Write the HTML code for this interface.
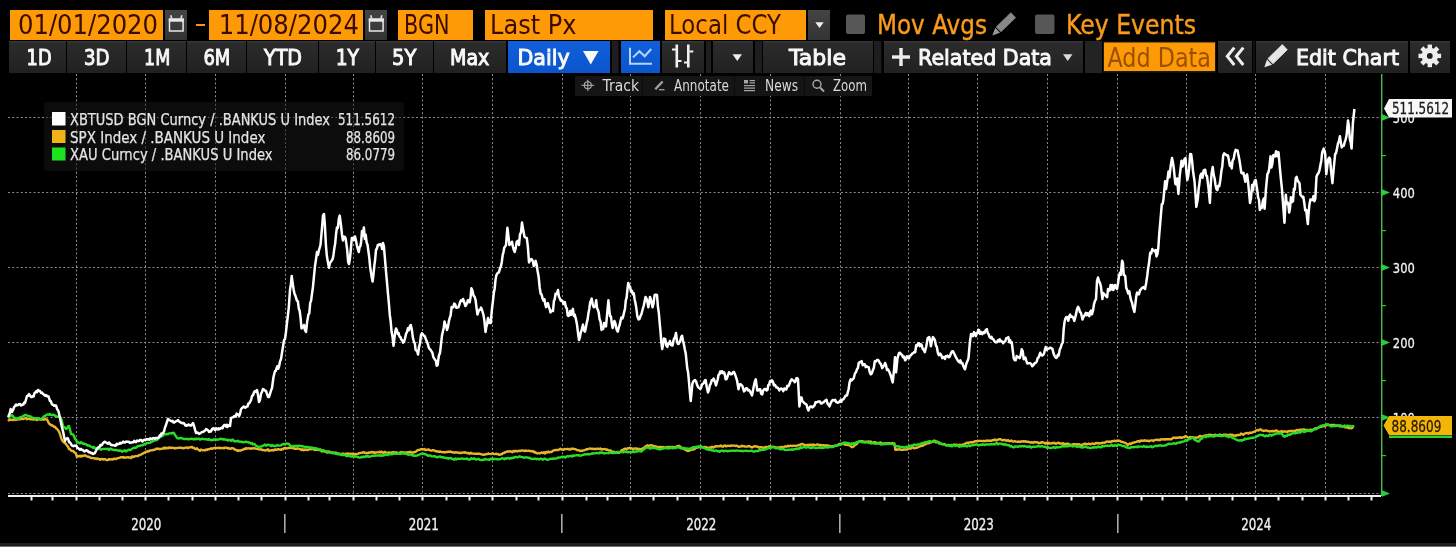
<!DOCTYPE html>
<html><head><meta charset="utf-8"><title>XBTUSD / BANKUS chart</title>
<style>
*{margin:0;padding:0}
html,body{width:1456px;height:547px;overflow:hidden;background:#000}
svg{display:block}
svg text{font-family:"DejaVu Sans","Liberation Sans",Arial,sans-serif}
</style></head><body>
<svg width="1456" height="547" viewBox="0 0 1456 547">
<defs>
<linearGradient id="gb" x1="0" y1="0" x2="0" y2="1"><stop offset="0" stop-color="#3a3a3a"/><stop offset="0.07" stop-color="#2b2b2b"/><stop offset="1" stop-color="#212121"/></linearGradient>
<linearGradient id="gblue" x1="0" y1="0" x2="0" y2="1"><stop offset="0" stop-color="#115fda"/><stop offset="1" stop-color="#0b55cc"/></linearGradient>
<linearGradient id="gcal" x1="0" y1="0" x2="0" y2="1"><stop offset="0" stop-color="#444"/><stop offset="1" stop-color="#333"/></linearGradient>
</defs>
<rect x="10" y="10" width="153" height="30" fill="#fd9a06"/>
<rect x="209" y="10" width="154" height="30" fill="#fd9a06"/>
<rect x="398" y="10" width="75" height="30" fill="#fd9a06"/>
<rect x="485" y="10" width="168" height="30" fill="#fd9a06"/>
<rect x="665" y="10" width="141" height="30" fill="#fd9a06"/>
<rect x="165" y="10" width="22" height="30" fill="url(#gcal)"/><rect x="169.5" y="19.2" width="13.6" height="11.8" fill="none" stroke="#e8e8e8" stroke-width="1.5"/><rect x="168.8" y="18.5" width="15" height="3.2" fill="#e8e8e8"/><polygon points="170,15.2 171.6,15.2 172.4,18.6 170.8,18.6" fill="#e8e8e8"/><polygon points="181,15.2 182.6,15.2 181.8,18.6 180.2,18.6" fill="#e8e8e8"/>
<rect x="365" y="10" width="22" height="30" fill="url(#gcal)"/><rect x="369.5" y="19.2" width="13.6" height="11.8" fill="none" stroke="#e8e8e8" stroke-width="1.5"/><rect x="368.8" y="18.5" width="15" height="3.2" fill="#e8e8e8"/><polygon points="370,15.2 371.6,15.2 372.4,18.6 370.8,18.6" fill="#e8e8e8"/><polygon points="381,15.2 382.6,15.2 381.8,18.6 380.2,18.6" fill="#e8e8e8"/>
<rect x="196" y="24" width="9" height="2" fill="#f7931e"/>
<rect x="808" y="10" width="22" height="30" fill="url(#gcal)"/>
<polygon points="815.3,22.3 823.7,22.3 819.5,28" fill="#eee"/>
<rect x="846" y="14.5" width="19" height="19.5" rx="2" fill="#575757"/>
<rect x="1035" y="14.5" width="19.5" height="19.5" rx="2" fill="#575757"/>
<polygon points="992.30,35.50 1000.05,32.71 995.31,27.84" fill="#999"/><polygon points="1000.98,31.81 1015.57,17.64 1010.83,12.76 996.24,26.93" fill="#888" stroke="#888" stroke-width="0.8" stroke-linejoin="round"/>
<text x="18" y="33.6" font-size="26" fill="#3a0c00" textLength="140" lengthAdjust="spacingAndGlyphs">01/01/2020</text>
<text x="218.7" y="33.6" font-size="26" fill="#3a0c00" textLength="140.3" lengthAdjust="spacingAndGlyphs">11/08/2024</text>
<text x="404" y="33.6" font-size="26" fill="#3a0c00" textLength="45.5" lengthAdjust="spacingAndGlyphs">BGN</text>
<text x="490" y="33.6" font-size="26" fill="#3a0c00" textLength="86.5" lengthAdjust="spacingAndGlyphs">Last Px</text>
<text x="669" y="33.6" font-size="26" fill="#3a0c00" textLength="112" lengthAdjust="spacingAndGlyphs">Local CCY</text>
<text x="877" y="34" font-size="27" fill="#fa9a1a" textLength="110" lengthAdjust="spacingAndGlyphs" stroke="#fa9a1a" stroke-width="0.45">Mov Avgs</text>
<text x="1066" y="34" font-size="27" fill="#fa9a1a" textLength="130" lengthAdjust="spacingAndGlyphs" stroke="#fa9a1a" stroke-width="0.45">Key Events</text>
<rect x="9" y="41" width="57" height="32" fill="url(#gb)"/>
<rect x="67" y="41" width="59" height="32" fill="url(#gb)"/>
<rect x="127" y="41" width="59" height="32" fill="url(#gb)"/>
<rect x="187" y="41" width="59" height="32" fill="url(#gb)"/>
<rect x="247" y="41" width="71" height="32" fill="url(#gb)"/>
<rect x="319" y="41" width="56" height="32" fill="url(#gb)"/>
<rect x="376" y="41" width="57" height="32" fill="url(#gb)"/>
<rect x="434" y="41" width="72" height="32" fill="url(#gb)"/>
<rect x="612" y="41" width="6.5" height="32" fill="#1e1e1e"/>
<rect x="706" y="41" width="5" height="32" fill="#1e1e1e"/>
<rect x="755" y="41" width="7" height="32" fill="#1e1e1e"/>
<rect x="874" y="41" width="7.2999999999999545" height="32" fill="#1e1e1e"/>
<rect x="1253.5" y="41" width="1.0" height="32" fill="#1e1e1e"/>
<rect x="508" y="41" width="102" height="32" fill="url(#gblue)"/>
<rect x="621" y="41" width="39" height="32" fill="url(#gblue)"/>
<rect x="662" y="41" width="42" height="32" fill="url(#gb)"/>
<rect x="713" y="41" width="40" height="32" fill="url(#gb)"/>
<rect x="763" y="41" width="110" height="32" fill="url(#gb)"/>
<rect x="884" y="41" width="199" height="32" fill="url(#gb)"/>
<rect x="1085" y="41" width="17" height="32" fill="#232323"/>
<rect x="1103" y="41.5" width="113" height="31" fill="#1a1a1a"/>
<rect x="1104" y="42.5" width="111" height="28.5" fill="#fd9a06"/>
<rect x="1218" y="41" width="34" height="32" fill="url(#gb)"/>
<rect x="1256" y="41" width="152" height="32" fill="url(#gb)"/>
<rect x="1410" y="41" width="40" height="32" fill="url(#gb)"/>
<text x="26.6" y="64.7" font-size="21.5" fill="#f8f8f8" textLength="25" lengthAdjust="spacingAndGlyphs" stroke="#f8f8f8" stroke-width="1.0">1D</text>
<text x="84" y="64.7" font-size="21.5" fill="#f8f8f8" textLength="25.6" lengthAdjust="spacingAndGlyphs" stroke="#f8f8f8" stroke-width="1.0">3D</text>
<text x="144" y="64.7" font-size="21.5" fill="#f8f8f8" textLength="26.3" lengthAdjust="spacingAndGlyphs" stroke="#f8f8f8" stroke-width="1.0">1M</text>
<text x="203.4" y="64.7" font-size="21.5" fill="#f8f8f8" textLength="27" lengthAdjust="spacingAndGlyphs" stroke="#f8f8f8" stroke-width="1.0">6M</text>
<text x="264" y="64.7" font-size="21.5" fill="#f8f8f8" textLength="38" lengthAdjust="spacingAndGlyphs" stroke="#f8f8f8" stroke-width="1.0">YTD</text>
<text x="335.7" y="64.7" font-size="21.5" fill="#f8f8f8" textLength="23.3" lengthAdjust="spacingAndGlyphs" stroke="#f8f8f8" stroke-width="1.0">1Y</text>
<text x="392" y="64.7" font-size="21.5" fill="#f8f8f8" textLength="24.3" lengthAdjust="spacingAndGlyphs" stroke="#f8f8f8" stroke-width="1.0">5Y</text>
<text x="450" y="64.7" font-size="21.5" fill="#f8f8f8" textLength="39.4" lengthAdjust="spacingAndGlyphs" stroke="#f8f8f8" stroke-width="1.0">Max</text>
<text x="517.4" y="64.7" font-size="21.5" fill="#f8f8f8" textLength="52.2" lengthAdjust="spacingAndGlyphs" stroke="#f8f8f8" stroke-width="1.0">Daily</text>
<text x="789" y="64.7" font-size="21.5" fill="#f8f8f8" textLength="57" lengthAdjust="spacingAndGlyphs" stroke="#f8f8f8" stroke-width="1.0">Table</text>
<text x="918" y="64.7" font-size="21.5" fill="#f8f8f8" textLength="134" lengthAdjust="spacingAndGlyphs" stroke="#f8f8f8" stroke-width="1.0">Related Data</text>
<text x="1296" y="64.7" font-size="21.5" fill="#f8f8f8" textLength="103" lengthAdjust="spacingAndGlyphs" stroke="#f8f8f8" stroke-width="1.0">Edit Chart</text>
<text x="1107.5" y="66.7" font-size="26.3" fill="#9a5000" textLength="103.5" lengthAdjust="spacingAndGlyphs">Add Data</text>
<polygon points="583,51 598.5,51 590.75,64.5" fill="#fafafa"/>
<g fill="none" stroke="#b4d4ff" stroke-width="2"><polyline points="630,47.8 630,63.8 652,63.8"/><polyline points="633,57.4 639.4,51.2 644.7,56.2 651.2,49"/></g>
<g fill="#f2f2f2"><rect x="675.5" y="44.5" width="2.6" height="23"/><rect x="672" y="48.5" width="4" height="2"/><rect x="678" y="60" width="3.5" height="2"/><rect x="687" y="44.5" width="2.6" height="23"/><rect x="684" y="61.5" width="3.5" height="2"/><rect x="689.5" y="50.5" width="3.8" height="2"/></g>
<polygon points="732.5,54.3 742,54.3 737.25,61" fill="#eee"/>
<polygon points="1063,54.3 1072.5,54.3 1067.75,61" fill="#ddd"/>
<g fill="#eee"><rect x="892" y="55.3" width="18" height="3.4"/><rect x="899.3" y="48" width="3.4" height="18"/></g>
<g fill="none" stroke="#eee" stroke-width="3"><polyline points="1234.3,47.6 1227.3,56.3 1234.3,65"/><polyline points="1243.3,47.6 1236.3,56.3 1243.3,65"/></g>
<polygon points="1264.30,67.20 1272.04,64.68 1267.01,59.53" fill="#e6e6e6"/><polygon points="1272.97,63.77 1287.31,49.78 1282.29,44.62 1267.94,58.62" fill="#e6e6e6" stroke="#e6e6e6" stroke-width="0.8" stroke-linejoin="round"/>
<g transform="translate(1429.8,55.9)" fill="#eee"><circle r="8.2"/><rect x="-2.2" y="-11.3" width="4.4" height="5" transform="rotate(0)"/><rect x="-2.2" y="-11.3" width="4.4" height="5" transform="rotate(45)"/><rect x="-2.2" y="-11.3" width="4.4" height="5" transform="rotate(90)"/><rect x="-2.2" y="-11.3" width="4.4" height="5" transform="rotate(135)"/><rect x="-2.2" y="-11.3" width="4.4" height="5" transform="rotate(180)"/><rect x="-2.2" y="-11.3" width="4.4" height="5" transform="rotate(225)"/><rect x="-2.2" y="-11.3" width="4.4" height="5" transform="rotate(270)"/><rect x="-2.2" y="-11.3" width="4.4" height="5" transform="rotate(315)"/><circle r="2.9" fill="#1e1e1e"/></g>
<g stroke="#c8c8c8" stroke-width="1" stroke-dasharray="2 2.25" opacity="0.7">
<line x1="76.5" y1="74" x2="76.5" y2="493"/>
<line x1="145.5" y1="74" x2="145.5" y2="493"/>
<line x1="215.5" y1="74" x2="215.5" y2="493"/>
<line x1="285.5" y1="74" x2="285.5" y2="493"/>
<line x1="353.5" y1="74" x2="353.5" y2="493"/>
<line x1="422.5" y1="74" x2="422.5" y2="493"/>
<line x1="492.5" y1="74" x2="492.5" y2="493"/>
<line x1="562.5" y1="74" x2="562.5" y2="493"/>
<line x1="630.5" y1="74" x2="630.5" y2="493"/>
<line x1="700.5" y1="74" x2="700.5" y2="493"/>
<line x1="770.5" y1="74" x2="770.5" y2="493"/>
<line x1="840.5" y1="74" x2="840.5" y2="493"/>
<line x1="908.5" y1="74" x2="908.5" y2="493"/>
<line x1="977.5" y1="74" x2="977.5" y2="493"/>
<line x1="1047.5" y1="74" x2="1047.5" y2="493"/>
<line x1="1117.5" y1="74" x2="1117.5" y2="493"/>
<line x1="1186.5" y1="74" x2="1186.5" y2="493"/>
<line x1="1255.5" y1="74" x2="1255.5" y2="493"/>
<line x1="1325.5" y1="74" x2="1325.5" y2="493"/>
<line x1="8" y1="117.5" x2="1381" y2="117.5"/>
<line x1="8" y1="192.5" x2="1381" y2="192.5"/>
<line x1="8" y1="267.5" x2="1381" y2="267.5"/>
<line x1="8" y1="342.5" x2="1381" y2="342.5"/>
<line x1="8" y1="417.5" x2="1381" y2="417.5"/>
<line x1="8" y1="493.5" x2="1381" y2="493.5"/>
</g>
<rect x="44" y="102" width="360" height="69" rx="3" fill="#181818" fill-opacity="0.5"/>
<rect x="52" y="112" width="13.5" height="13.5" fill="#ffffff"/>
<rect x="52" y="130" width="13.5" height="13" fill="#f0b41a"/>
<rect x="52" y="147.5" width="13.5" height="13" fill="#1ee21e"/>
<text x="70" y="125" font-size="15" fill="#e4e4e4" textLength="260" lengthAdjust="spacingAndGlyphs" stroke="#e4e4e4" stroke-width="0.25">XBTUSD BGN Curncy / .BANKUS U Index</text>
<text x="70" y="142.7" font-size="15" fill="#e4e4e4" textLength="195.4" lengthAdjust="spacingAndGlyphs" stroke="#e4e4e4" stroke-width="0.25">SPX Index / .BANKUS U Index</text>
<text x="70" y="160.2" font-size="15" fill="#e4e4e4" textLength="202.6" lengthAdjust="spacingAndGlyphs" stroke="#e4e4e4" stroke-width="0.25">XAU Curncy / .BANKUS U Index</text>
<text x="338" y="125" font-size="15" fill="#e4e4e4" textLength="57" lengthAdjust="spacingAndGlyphs" stroke="#e4e4e4" stroke-width="0.25">511.5612</text>
<text x="346" y="142.7" font-size="15" fill="#e4e4e4" textLength="49" lengthAdjust="spacingAndGlyphs" stroke="#e4e4e4" stroke-width="0.25">88.8609</text>
<text x="346" y="160.2" font-size="15" fill="#e4e4e4" textLength="49" lengthAdjust="spacingAndGlyphs" stroke="#e4e4e4" stroke-width="0.25">86.0779</text>
<rect x="8" y="495" width="1373" height="2" fill="#f0f0f0"/>
<g fill="#f0f0f0"><rect x="30.5" y="497" width="2" height="3.5"/><rect x="51.5" y="497" width="2" height="3.5"/><rect x="75.5" y="497" width="2" height="3.5"/><rect x="98.5" y="497" width="2" height="3.5"/><rect x="121.5" y="497" width="2" height="3.5"/><rect x="144.5" y="497" width="2" height="3.5"/><rect x="167.5" y="497" width="2" height="3.5"/><rect x="191.5" y="497" width="2" height="3.5"/><rect x="214.5" y="497" width="2" height="3.5"/><rect x="237.5" y="497" width="2" height="3.5"/><rect x="260.5" y="497" width="2" height="3.5"/><rect x="284.5" y="497" width="2" height="3.5"/><rect x="307.5" y="497" width="2" height="3.5"/><rect x="328.5" y="497" width="2" height="3.5"/><rect x="352.5" y="497" width="2" height="3.5"/><rect x="375.5" y="497" width="2" height="3.5"/><rect x="398.5" y="497" width="2" height="3.5"/><rect x="421.5" y="497" width="2" height="3.5"/><rect x="445.5" y="497" width="2" height="3.5"/><rect x="468.5" y="497" width="2" height="3.5"/><rect x="491.5" y="497" width="2" height="3.5"/><rect x="515.5" y="497" width="2" height="3.5"/><rect x="537.5" y="497" width="2" height="3.5"/><rect x="561.5" y="497" width="2" height="3.5"/><rect x="585.5" y="497" width="2" height="3.5"/><rect x="606.5" y="497" width="2" height="3.5"/><rect x="629.5" y="497" width="2" height="3.5"/><rect x="652.5" y="497" width="2" height="3.5"/><rect x="676.5" y="497" width="2" height="3.5"/><rect x="699.5" y="497" width="2" height="3.5"/><rect x="722.5" y="497" width="2" height="3.5"/><rect x="746.5" y="497" width="2" height="3.5"/><rect x="769.5" y="497" width="2" height="3.5"/><rect x="792.5" y="497" width="2" height="3.5"/><rect x="815.5" y="497" width="2" height="3.5"/><rect x="839.5" y="497" width="2" height="3.5"/><rect x="862.5" y="497" width="2" height="3.5"/><rect x="883.5" y="497" width="2" height="3.5"/><rect x="907.5" y="497" width="2" height="3.5"/><rect x="930.5" y="497" width="2" height="3.5"/><rect x="953.5" y="497" width="2" height="3.5"/><rect x="976.5" y="497" width="2" height="3.5"/><rect x="1000.5" y="497" width="2" height="3.5"/><rect x="1023.5" y="497" width="2" height="3.5"/><rect x="1046.5" y="497" width="2" height="3.5"/><rect x="1070.5" y="497" width="2" height="3.5"/><rect x="1092.5" y="497" width="2" height="3.5"/><rect x="1116.5" y="497" width="2" height="3.5"/><rect x="1140.5" y="497" width="2" height="3.5"/><rect x="1161.5" y="497" width="2" height="3.5"/><rect x="1185.5" y="497" width="2" height="3.5"/><rect x="1208.5" y="497" width="2" height="3.5"/><rect x="1231.5" y="497" width="2" height="3.5"/><rect x="1254.5" y="497" width="2" height="3.5"/><rect x="1277.5" y="497" width="2" height="3.5"/><rect x="1301.5" y="497" width="2" height="3.5"/><rect x="1324.5" y="497" width="2" height="3.5"/><rect x="1347.5" y="497" width="2" height="3.5"/><rect x="1370.5" y="497" width="2" height="3.5"/></g>
<text x="131.15" y="529.7" font-size="15.3" fill="#f0f0f0" textLength="30.2" lengthAdjust="spacingAndGlyphs" stroke="#f0f0f0" stroke-width="0.35">2020</text>
<rect x="284" y="514" width="1.6" height="19" fill="#a8a8a8"/>
<text x="408.65" y="529.7" font-size="15.3" fill="#f0f0f0" textLength="30.2" lengthAdjust="spacingAndGlyphs" stroke="#f0f0f0" stroke-width="0.35">2021</text>
<rect x="561" y="514" width="1.6" height="19" fill="#a8a8a8"/>
<text x="686.15" y="529.7" font-size="15.3" fill="#f0f0f0" textLength="30.2" lengthAdjust="spacingAndGlyphs" stroke="#f0f0f0" stroke-width="0.35">2022</text>
<rect x="839" y="514" width="1.6" height="19" fill="#a8a8a8"/>
<text x="963.65" y="529.7" font-size="15.3" fill="#f0f0f0" textLength="30.2" lengthAdjust="spacingAndGlyphs" stroke="#f0f0f0" stroke-width="0.35">2023</text>
<rect x="1117" y="514" width="1.6" height="19" fill="#a8a8a8"/>
<text x="1241.15" y="529.7" font-size="15.3" fill="#f0f0f0" textLength="30.2" lengthAdjust="spacingAndGlyphs" stroke="#f0f0f0" stroke-width="0.35">2024</text>
<rect x="1381" y="74" width="1.4" height="422" fill="#4cbd4c"/>
<polygon points="1382,114.3 1390,117.5 1382,120.7" fill="#22d03a"/>
<polygon points="1382,189.3 1390,192.5 1382,195.7" fill="#22d03a"/>
<polygon points="1382,264.3 1390,267.5 1382,270.7" fill="#22d03a"/>
<polygon points="1382,339.3 1390,342.5 1382,345.7" fill="#22d03a"/>
<polygon points="1382,414.3 1390,417.5 1382,420.7" fill="#22d03a"/>
<polygon points="1382,490.3 1390,493.5 1382,496.7" fill="#22d03a"/>
<rect x="1382" y="155" width="4" height="1.2" fill="#2cc82c"/>
<rect x="1382" y="230" width="4" height="1.2" fill="#2cc82c"/>
<rect x="1382" y="305" width="4" height="1.2" fill="#2cc82c"/>
<rect x="1382" y="380" width="4" height="1.2" fill="#2cc82c"/>
<rect x="1382" y="455" width="4" height="1.2" fill="#2cc82c"/>
<text x="1392.8" y="123" font-size="14.8" fill="#f2f2f2" textLength="22" lengthAdjust="spacingAndGlyphs" stroke="#f2f2f2" stroke-width="0.3">500</text>
<text x="1392.8" y="198" font-size="14.8" fill="#f2f2f2" textLength="22" lengthAdjust="spacingAndGlyphs" stroke="#f2f2f2" stroke-width="0.3">400</text>
<text x="1392.8" y="273" font-size="14.8" fill="#f2f2f2" textLength="22" lengthAdjust="spacingAndGlyphs" stroke="#f2f2f2" stroke-width="0.3">300</text>
<text x="1392.8" y="348" font-size="14.8" fill="#f2f2f2" textLength="22" lengthAdjust="spacingAndGlyphs" stroke="#f2f2f2" stroke-width="0.3">200</text>
<text x="1392.8" y="423" font-size="14.8" fill="#f2f2f2" textLength="22" lengthAdjust="spacingAndGlyphs" stroke="#f2f2f2" stroke-width="0.3">100</text>
<g fill="none" stroke-width="2.4" stroke-linejoin="round">
<polyline points="8.0,419.5 9.0,420.4 10.0,419.4 11.0,419.8 12.0,419.8 13.0,420.1 14.0,419.3 15.0,419.8 16.0,420.0 17.0,419.5 18.0,419.3 19.0,419.2 20.0,419.2 21.0,419.1 22.0,418.7 23.0,419.1 24.0,418.5 25.0,418.6 26.0,417.9 27.0,419.3 28.0,418.8 29.0,418.8 30.0,419.3 31.0,419.4 32.0,419.4 33.0,419.5 34.0,419.2 35.0,419.6 36.0,418.9 37.0,420.1 38.0,419.0 39.0,419.4 40.0,419.5 41.0,419.5 42.0,419.6 43.0,419.4 44.0,419.7 45.0,418.7 46.0,419.4 47.0,419.5 48.0,421.4 49.0,423.6 50.0,424.0 51.0,425.4 52.0,425.0 53.0,426.0 54.0,426.7 55.0,426.7 56.0,428.3 57.0,429.0 58.0,430.0 59.0,431.7 60.0,434.0 61.2,438.3 62.5,441.0 63.7,442.2 64.8,442.9 66.0,444.0 67.0,445.7 68.0,446.7 69.0,449.0 70.0,449.2 71.0,450.5 72.0,451.0 73.2,450.9 74.4,452.4 75.6,453.0 77.0,457.0 78.0,456.0 79.0,456.4 80.0,455.7 81.0,456.5 82.0,455.6 83.0,456.1 84.0,455.7 85.0,455.3 86.0,455.9 87.0,456.5 88.0,456.7 89.0,456.6 90.0,457.5 91.0,458.0 92.0,458.0 93.0,458.1 94.0,458.1 95.0,458.7 96.0,458.4 97.0,459.0 98.0,458.7 99.0,459.0 100.0,459.7 101.0,459.1 102.0,458.9 103.0,459.5 104.0,459.3 105.0,459.3 106.0,459.8 107.0,460.0 108.0,460.1 109.0,458.9 110.0,459.6 111.0,459.4 112.0,459.3 113.0,459.5 114.0,458.5 115.0,459.0 116.0,459.0 117.0,458.4 118.0,458.2 119.0,457.9 120.0,457.6 121.0,457.2 122.0,457.4 123.0,457.0 124.0,457.9 125.0,457.5 126.0,457.5 127.0,457.5 128.0,457.1 129.0,457.6 130.0,457.5 131.0,458.0 132.0,456.4 133.0,457.0 134.0,456.8 135.0,456.2 136.0,456.1 137.0,456.1 138.0,456.1 139.0,455.0 140.0,455.1 141.0,454.7 142.0,453.8 143.0,453.5 144.0,452.8 145.0,452.4 146.0,451.7 147.0,451.7 148.0,451.0 149.0,451.3 150.0,450.5 151.0,450.4 152.0,450.3 153.0,449.9 154.0,450.0 155.0,449.5 156.0,448.7 157.0,449.0 158.0,448.5 159.0,449.1 160.0,448.9 161.0,449.0 162.0,448.6 163.0,448.5 164.0,447.6 165.0,448.7 166.0,447.7 167.0,448.0 168.0,448.4 169.0,447.5 170.0,447.7 171.0,448.0 172.0,447.8 173.0,447.7 174.0,448.3 175.0,448.3 176.0,448.0 177.0,448.1 178.0,447.9 179.0,447.7 180.0,447.8 181.0,447.8 182.0,448.0 183.0,448.3 184.0,447.9 185.0,448.0 186.0,447.5 187.0,447.5 188.0,448.1 189.0,447.5 190.0,447.4 191.0,447.2 192.0,447.0 193.0,447.7 194.0,447.9 195.0,448.8 196.0,449.0 197.0,448.3 198.0,449.5 199.0,450.0 200.0,450.8 201.0,449.5 202.0,450.0 203.0,450.4 204.0,450.0 205.0,450.5 206.0,449.5 207.0,450.0 208.0,449.2 209.0,449.4 210.0,448.8 211.0,448.4 212.0,448.8 213.0,448.4 214.0,448.0 215.0,448.0 216.0,447.8 217.0,448.1 218.0,448.0 219.0,447.7 220.0,448.2 221.0,448.0 222.0,448.1 223.0,448.0 224.0,448.3 225.0,447.6 226.0,447.9 227.0,447.8 228.0,448.5 229.0,448.2 230.0,448.8 231.0,448.6 232.0,448.0 233.0,448.4 234.0,448.6 235.0,449.7 236.0,449.9 237.0,450.4 238.0,451.0 239.0,450.3 240.0,450.7 241.0,450.2 242.0,450.0 243.0,449.7 244.0,448.9 245.0,449.0 246.0,448.1 247.0,448.7 248.0,448.4 249.0,448.3 250.0,448.8 251.0,448.3 252.0,448.8 253.0,448.2 254.0,448.0 255.0,448.5 256.0,448.6 257.0,449.0 258.0,448.4 259.0,449.5 260.0,449.4 261.0,449.2 262.0,450.0 263.0,450.0 264.0,450.1 265.0,450.5 266.0,450.3 267.0,450.1 268.0,449.3 269.0,450.7 270.0,450.6 271.0,450.3 272.0,450.2 273.0,450.0 274.0,450.4 275.0,449.4 276.0,449.9 277.0,449.6 278.0,449.0 279.0,449.5 280.0,449.4 281.0,449.8 282.0,449.0 283.1,449.2 284.2,448.1 285.3,447.8 286.3,448.4 287.4,448.2 288.5,447.8 289.6,448.0 290.7,447.5 291.7,448.1 292.8,447.9 293.9,448.2 294.9,448.9 296.0,448.8 297.1,448.5 298.1,448.4 299.2,449.0 300.3,449.1 301.4,450.0 302.5,449.2 303.7,450.3 304.8,449.4 305.9,449.8 307.0,450.0 308.3,449.9 309.5,449.0 310.8,449.0 311.9,449.2 313.0,448.7 314.1,449.7 315.2,450.0 316.3,449.5 317.4,449.9 318.5,450.0 319.6,450.1 320.6,449.6 321.7,451.5 322.7,451.1 323.8,451.4 324.8,451.5 325.9,451.6 326.9,452.6 328.0,452.0 329.1,451.4 330.2,452.2 331.2,452.3 332.3,452.6 333.4,453.1 334.5,452.7 335.5,452.6 336.6,452.9 337.7,453.5 338.8,453.7 339.8,453.9 340.9,453.9 342.0,454.3 343.0,453.5 344.1,454.1 345.2,454.0 346.2,453.7 347.3,453.8 348.4,453.5 349.5,454.2 350.5,453.7 351.6,453.9 352.7,453.6 353.8,454.8 354.8,454.1 355.9,454.0 357.0,454.2 358.3,453.7 359.5,453.2 360.8,452.9 361.9,452.9 363.1,452.2 364.2,452.4 365.4,453.1 366.5,452.9 367.6,453.3 368.6,452.4 369.7,452.8 370.7,452.5 371.8,451.9 372.8,452.5 373.9,452.2 374.9,452.9 376.0,452.5 377.1,452.4 378.2,452.4 379.3,451.8 380.4,452.5 381.4,451.6 382.5,452.5 383.6,452.9 384.7,451.8 385.8,452.3 386.9,452.7 387.9,453.0 389.0,452.4 390.1,453.0 391.1,452.7 392.2,452.5 393.3,452.0 394.3,452.4 395.4,452.9 396.5,452.3 397.5,453.6 398.6,452.9 399.7,452.7 400.7,452.1 401.8,453.3 402.9,452.1 403.9,453.1 405.0,452.5 406.1,452.9 407.1,452.4 408.2,452.1 409.3,452.3 410.3,451.7 411.4,452.4 412.5,452.8 413.5,452.4 414.6,452.0 415.9,451.8 417.2,450.4 418.5,450.0 419.6,449.9 420.8,449.2 421.9,449.2 423.1,449.5 424.2,449.0 425.4,450.1 426.5,449.6 427.7,449.9 428.8,449.4 430.0,450.4 431.1,450.6 432.2,450.3 433.3,450.3 434.4,450.4 435.5,451.2 436.6,451.2 437.7,451.5 438.8,451.8 439.8,451.5 440.9,451.7 442.0,452.3 443.0,452.1 444.1,452.1 445.2,452.5 446.2,452.0 447.3,452.0 448.4,451.7 449.5,451.8 450.5,451.5 451.6,452.4 452.7,452.1 453.8,452.5 454.8,452.7 455.9,452.1 457.0,452.5 458.1,452.6 459.1,453.1 460.2,452.7 461.2,453.1 462.3,452.6 463.3,452.4 464.4,452.7 465.4,452.1 466.5,452.9 467.6,453.3 468.6,452.9 469.7,453.7 470.7,452.8 471.8,453.5 472.8,453.6 473.9,453.5 474.9,453.9 476.0,453.8 477.1,453.6 478.2,453.7 479.3,453.7 480.5,454.1 481.6,454.2 482.7,454.8 483.8,454.8 484.9,454.5 486.0,454.2 487.1,454.1 488.2,453.5 489.3,453.9 490.4,454.1 491.5,453.8 492.6,453.3 493.6,453.8 494.7,454.2 495.7,453.7 496.8,454.1 497.8,453.9 498.9,454.9 499.9,454.7 501.0,454.2 502.0,454.2 503.0,453.0 504.0,453.1 505.0,452.3 506.0,452.1 507.0,451.5 508.1,451.3 509.2,451.6 510.3,451.2 511.3,451.6 512.4,452.2 513.5,450.9 514.6,451.5 515.7,450.8 516.8,451.4 517.9,451.3 519.0,450.7 520.1,451.0 521.2,450.7 522.3,450.4 523.4,450.7 524.5,451.1 525.6,450.4 526.7,451.0 527.8,450.9 528.9,450.6 530.0,451.0 531.1,451.5 532.1,451.0 533.2,451.2 534.3,452.5 535.3,451.9 536.4,453.4 537.5,453.4 538.5,453.0 539.6,453.5 540.7,453.0 541.7,452.4 542.8,453.1 543.9,452.3 544.9,453.5 546.0,452.0 547.1,452.6 548.1,451.6 549.2,452.3 550.3,451.8 551.5,452.1 552.6,451.0 553.7,450.4 554.9,450.2 556.0,450.0 557.1,450.0 558.1,450.1 559.2,449.5 560.3,448.7 561.4,449.5 562.5,449.6 563.5,449.9 564.6,449.0 565.7,449.1 566.7,449.1 567.8,448.8 568.9,449.3 569.9,449.7 571.0,448.6 572.1,449.0 573.1,448.6 574.2,449.0 575.4,449.1 576.5,449.7 577.7,450.4 578.8,450.3 580.0,451.0 581.1,450.6 582.1,451.0 583.2,450.4 584.3,450.2 585.3,449.8 586.4,449.3 587.5,449.2 588.5,449.0 589.6,448.5 590.7,448.6 591.7,449.0 592.8,448.7 593.9,449.1 594.9,448.8 596.0,449.1 597.1,448.6 598.1,448.7 599.2,449.0 600.4,448.5 601.5,449.5 602.7,449.2 603.8,449.1 605.0,449.0 606.1,449.7 607.2,449.5 608.3,450.3 609.4,450.5 610.5,450.4 611.6,451.5 612.7,452.0 613.9,451.8 615.0,452.9 616.2,452.2 617.3,452.5 618.5,452.9 619.6,452.5 620.8,451.3 621.9,450.0 623.1,449.9 624.2,449.0 625.3,448.6 626.4,449.6 627.5,448.3 628.7,448.4 629.8,447.8 630.9,448.3 632.0,448.5 633.1,449.3 634.2,448.6 635.3,448.3 636.3,448.9 637.4,448.7 638.5,448.9 639.6,449.0 640.8,449.3 641.9,448.8 643.1,448.2 644.2,447.7 645.4,446.5 646.5,445.9 647.6,445.2 648.8,446.0 649.9,445.6 651.0,445.2 652.1,445.5 653.2,445.7 654.3,446.3 655.5,446.5 656.6,446.7 657.7,447.0 658.8,447.1 659.9,447.0 660.9,446.9 662.0,447.7 663.0,447.0 664.1,447.9 665.1,447.4 666.2,447.1 667.2,447.6 668.3,446.9 669.3,447.0 670.4,447.1 671.5,446.9 672.5,447.0 673.6,447.2 674.7,447.6 675.7,447.0 676.8,446.3 677.9,446.3 678.9,445.8 680.0,446.5 681.1,447.4 682.2,448.1 683.3,448.6 684.4,449.2 685.5,449.9 686.6,450.5 687.7,451.0 688.9,450.9 690.0,450.3 691.2,449.4 692.3,449.8 693.5,449.0 694.6,449.2 695.6,447.6 696.7,447.8 697.8,447.1 698.9,447.4 699.9,446.7 701.0,446.5 702.1,447.3 703.2,447.4 704.3,447.0 705.5,447.2 706.6,447.3 707.7,448.0 708.8,448.0 709.9,447.4 711.0,447.7 712.1,446.8 713.2,447.6 714.3,447.1 715.4,446.2 716.5,446.5 717.5,446.1 718.6,446.4 719.6,446.4 720.7,445.4 721.7,446.3 722.8,446.7 723.8,445.9 724.9,445.4 725.9,446.4 727.0,446.0 728.0,445.8 729.1,445.9 730.2,446.1 731.2,445.4 732.3,445.7 733.4,445.6 734.5,445.6 735.5,446.0 736.6,445.7 737.7,446.2 738.8,446.9 739.8,446.5 740.9,446.6 742.0,445.7 743.0,446.3 744.1,446.3 745.2,446.5 746.2,446.6 747.3,446.5 748.4,446.2 749.5,446.1 750.5,446.9 751.6,447.3 752.7,447.3 753.8,446.4 754.8,446.2 755.9,446.6 757.0,446.5 758.1,446.9 759.3,447.7 760.4,447.1 761.6,447.2 762.7,447.7 763.8,448.0 764.9,447.1 766.0,446.8 767.1,447.2 768.2,446.8 769.3,446.2 770.4,446.5 771.5,446.6 772.6,446.7 773.7,446.9 774.7,446.9 775.8,447.6 776.9,447.4 778.0,447.7 779.1,447.3 780.2,447.8 781.3,446.8 782.5,447.3 783.6,447.1 784.7,446.5 785.8,446.5 786.9,446.5 787.9,445.7 789.0,446.4 790.1,445.8 791.1,445.8 792.2,446.1 793.3,445.7 794.3,445.9 795.4,445.8 796.5,445.6 797.6,445.6 798.8,445.0 799.9,444.9 801.0,444.2 802.1,444.0 803.2,444.3 804.3,444.9 805.5,445.2 806.6,445.1 807.7,444.8 808.8,445.2 809.9,444.7 811.0,444.7 812.0,445.5 813.1,444.5 814.2,444.8 815.3,445.1 816.3,444.9 817.4,444.4 818.5,444.6 819.6,445.5 820.6,444.9 821.7,445.1 822.7,445.5 823.8,445.1 824.8,445.7 825.9,445.5 826.9,445.3 828.0,445.8 829.0,445.6 830.0,446.2 831.0,446.3 832.0,446.3 833.0,446.5 834.1,445.9 835.2,445.6 836.3,445.6 837.4,445.3 838.5,444.3 839.6,444.0 840.7,444.2 841.7,443.5 842.8,443.9 843.9,444.2 844.9,444.2 846.0,444.9 847.1,444.0 848.1,445.1 849.2,445.0 850.5,445.9 851.7,447.1 853.0,447.0 854.2,445.7 855.3,445.0 856.5,444.3 857.6,443.0 858.8,441.5 859.9,441.1 861.0,441.4 862.0,441.0 863.1,441.5 864.2,441.8 865.3,442.0 866.3,441.7 867.4,441.9 868.5,441.5 869.6,442.1 870.6,441.5 871.7,442.3 872.7,442.6 873.8,442.3 874.8,442.1 875.9,442.7 876.9,442.9 878.0,443.0 879.1,443.3 880.2,442.4 881.2,443.0 882.3,444.0 883.4,443.8 884.5,443.3 885.5,443.3 886.6,443.3 887.7,443.5 888.8,443.1 889.9,443.3 891.0,443.5 892.2,443.0 893.3,443.5 894.4,443.5 895.4,449.8 896.5,449.9 897.6,449.3 898.7,449.6 899.7,449.2 900.8,449.8 901.9,449.9 903.0,449.8 904.1,449.4 905.2,449.5 906.3,449.5 907.5,449.3 908.6,448.3 909.7,448.6 910.8,448.5 911.9,447.7 913.0,447.3 914.1,448.3 915.2,447.9 916.3,447.9 917.4,447.5 918.5,447.0 919.6,446.4 920.6,446.2 921.7,445.5 922.8,445.8 923.9,444.1 924.9,444.6 926.0,444.0 927.1,443.3 928.2,443.4 929.3,443.1 930.5,441.9 931.6,442.3 932.7,441.7 933.8,440.8 934.9,440.6 936.0,442.4 937.1,441.7 938.2,442.1 939.3,443.5 940.4,443.3 941.5,444.0 942.6,444.2 943.7,444.3 944.8,444.0 945.9,445.2 947.0,445.3 948.1,444.9 949.2,445.0 950.3,445.6 951.3,445.0 952.4,445.1 953.4,444.9 954.5,444.5 955.5,444.9 956.6,444.6 957.6,445.2 958.7,445.1 959.7,444.8 960.8,445.0 961.9,445.2 963.0,444.5 964.1,444.7 965.2,443.5 966.3,443.2 967.4,442.7 968.5,442.7 969.6,442.6 970.6,442.2 971.7,442.1 972.8,442.5 973.9,441.9 974.9,441.2 976.0,441.2 977.1,441.3 978.2,441.0 979.3,440.9 980.5,440.9 981.6,440.9 982.7,441.1 983.8,440.8 984.9,441.2 986.0,440.8 987.1,440.5 988.2,440.8 989.3,440.7 990.4,440.7 991.5,440.8 992.6,440.1 993.7,440.3 994.8,439.4 995.9,440.4 997.0,440.0 998.1,439.7 999.2,439.2 1000.3,439.1 1001.4,439.8 1002.5,440.4 1003.7,440.0 1004.8,439.9 1005.9,440.5 1007.0,440.8 1008.1,440.1 1009.2,441.3 1010.3,441.1 1011.3,440.5 1012.4,441.4 1013.5,441.6 1014.6,441.2 1015.7,441.5 1016.8,441.6 1017.9,441.9 1019.0,441.5 1020.1,442.0 1021.2,441.4 1022.3,441.5 1023.4,441.3 1024.5,441.5 1025.5,441.3 1026.6,441.9 1027.7,441.6 1028.8,442.0 1029.8,442.1 1030.9,442.7 1032.0,442.1 1033.1,442.9 1034.1,442.0 1035.2,442.2 1036.2,442.3 1037.3,442.2 1038.3,443.2 1039.4,443.1 1040.4,442.5 1041.5,442.7 1042.6,442.2 1043.6,442.6 1044.7,443.0 1045.7,443.7 1046.8,442.6 1047.8,443.8 1048.9,442.7 1049.9,443.6 1051.0,443.5 1052.1,443.0 1053.2,443.3 1054.3,442.7 1055.4,443.7 1056.4,443.5 1057.5,443.1 1058.6,442.7 1059.7,443.5 1060.8,443.5 1061.9,443.6 1062.9,443.2 1064.0,444.1 1065.1,443.9 1066.1,443.7 1067.2,443.9 1068.3,443.6 1069.3,444.8 1070.4,444.6 1071.5,445.0 1072.5,444.5 1073.6,444.1 1074.7,444.1 1075.7,444.5 1076.8,444.2 1077.9,444.7 1078.9,444.2 1080.0,444.6 1081.1,444.9 1082.1,444.9 1083.2,444.2 1084.3,444.0 1085.3,443.5 1086.4,444.2 1087.5,444.3 1088.5,443.7 1089.6,444.0 1090.7,444.4 1091.7,443.6 1092.8,443.4 1093.9,444.1 1094.9,443.9 1096.0,442.9 1097.1,443.3 1098.1,443.0 1099.2,443.5 1100.2,443.2 1101.3,443.2 1102.3,442.7 1103.4,442.8 1104.4,442.9 1105.4,442.2 1106.5,441.6 1107.5,441.5 1108.6,442.0 1109.6,441.5 1110.7,442.1 1111.7,441.2 1112.8,441.3 1113.9,440.8 1114.9,440.8 1116.0,441.3 1117.1,440.6 1118.1,440.8 1119.2,440.6 1120.3,441.1 1121.3,441.9 1122.4,442.0 1123.5,442.3 1124.5,442.6 1125.6,442.9 1126.7,444.0 1127.7,444.8 1128.8,444.4 1129.9,443.4 1131.0,444.1 1132.0,442.9 1133.1,442.7 1134.2,442.5 1135.3,442.1 1136.3,441.8 1137.4,441.3 1138.5,441.2 1139.6,441.8 1140.6,440.5 1141.7,440.7 1142.7,440.6 1143.8,440.9 1144.8,440.3 1145.9,440.7 1146.9,440.7 1148.0,440.6 1149.1,441.3 1150.2,440.7 1151.2,440.4 1152.3,440.4 1153.4,441.0 1154.5,440.1 1155.5,439.9 1156.6,439.8 1157.7,440.0 1158.8,439.8 1159.8,440.2 1160.9,439.3 1162.0,439.4 1163.0,439.5 1164.1,439.1 1165.2,439.6 1166.2,439.1 1167.3,439.2 1168.4,439.2 1169.5,439.1 1170.5,439.3 1171.6,439.2 1172.7,438.0 1173.8,437.7 1174.8,437.6 1175.9,438.1 1177.0,437.7 1178.1,437.8 1179.1,437.5 1180.2,437.3 1181.2,437.9 1182.3,437.5 1183.3,437.1 1184.4,437.2 1185.4,436.2 1186.5,436.7 1187.6,437.3 1188.6,437.7 1189.7,437.1 1190.7,437.0 1191.8,437.7 1192.8,437.2 1193.9,437.5 1194.9,437.8 1196.0,437.7 1197.1,437.4 1198.2,437.5 1199.3,436.2 1200.4,435.9 1201.4,436.7 1202.5,436.4 1203.6,436.0 1204.7,435.5 1205.8,435.4 1206.9,435.3 1207.9,435.4 1209.0,434.7 1210.1,435.2 1211.1,434.8 1212.2,435.8 1213.3,435.1 1214.3,435.0 1215.4,434.8 1216.5,435.2 1217.5,435.2 1218.6,435.2 1219.7,434.5 1220.7,434.9 1221.8,435.2 1222.9,434.9 1223.9,434.8 1225.0,434.8 1226.1,434.6 1227.1,435.0 1228.2,435.6 1229.3,434.6 1230.3,434.6 1231.4,434.7 1232.5,434.7 1233.5,435.8 1234.6,435.4 1235.7,436.0 1236.7,435.2 1237.8,434.9 1238.9,435.2 1239.9,434.9 1241.0,433.5 1242.1,434.1 1243.1,434.8 1244.2,433.8 1245.3,433.4 1246.3,433.1 1247.4,432.9 1248.5,433.6 1249.5,432.6 1250.6,432.7 1251.7,432.8 1252.7,432.2 1253.8,431.9 1255.0,431.4 1256.1,430.6 1257.3,430.0 1258.4,430.5 1259.6,429.6 1260.7,429.3 1261.8,430.4 1262.9,430.7 1264.0,431.0 1265.1,430.5 1266.2,430.5 1267.3,431.0 1268.4,431.0 1269.5,431.5 1270.6,431.2 1271.7,431.2 1272.8,431.0 1273.9,431.4 1275.0,431.0 1276.1,430.4 1277.2,430.8 1278.3,432.0 1279.4,431.7 1280.5,431.9 1281.6,431.0 1282.7,431.9 1283.8,431.5 1284.8,431.5 1285.9,431.6 1287.0,432.0 1288.0,431.2 1289.1,431.4 1290.2,430.9 1291.2,431.0 1292.3,431.0 1293.4,431.0 1294.5,430.9 1295.5,430.9 1296.6,429.9 1297.7,430.5 1298.8,430.2 1299.8,429.6 1300.9,430.3 1302.0,429.6 1303.1,429.4 1304.1,429.5 1305.2,429.9 1306.2,430.3 1307.3,429.7 1308.3,430.5 1309.4,430.1 1310.4,429.7 1311.5,430.0 1312.6,429.9 1313.7,429.2 1314.8,428.5 1315.9,428.3 1317.0,428.4 1318.1,427.7 1319.2,427.1 1320.3,426.7 1321.4,426.9 1322.5,425.7 1323.7,426.3 1324.8,426.3 1325.9,425.0 1327.0,425.2 1328.1,424.8 1329.2,424.9 1330.3,425.1 1331.3,424.9 1332.4,425.2 1333.5,424.8 1334.6,425.2 1335.7,425.5 1336.8,425.8 1337.9,425.9 1339.0,425.7 1340.1,426.5 1341.2,425.7 1342.3,426.5 1343.4,426.4 1344.5,426.8 1345.6,427.5 1346.7,427.0 1347.8,427.6 1348.9,428.2 1350.0,427.7 1351.0,428.3 1352.0,428.1 1353.0,426.9 1354.0,427.1" stroke="#e8b42a"/>
<polyline points="8.0,418.0 9.2,417.0 10.3,416.5 11.5,415.0 12.6,415.6 13.8,417.4 14.9,417.9 16.0,419.0 17.0,418.5 18.0,418.9 19.0,417.7 20.0,417.2 21.0,417.1 22.0,416.8 23.0,415.9 24.0,415.7 25.0,415.0 26.0,415.0 27.0,415.6 28.0,415.9 29.0,416.0 30.0,416.3 31.0,416.6 32.0,417.5 33.0,418.0 34.0,418.1 35.0,418.1 36.0,418.4 37.0,418.0 38.0,418.6 39.0,418.8 40.0,419.2 41.0,419.0 42.0,418.0 43.0,417.6 44.0,416.3 45.0,416.2 46.0,415.0 47.0,414.6 48.0,414.5 49.0,415.0 50.0,413.9 51.0,415.1 52.0,415.0 53.0,414.8 54.0,415.0 55.0,415.6 56.0,416.1 57.0,416.7 58.0,416.6 59.0,416.9 60.0,417.3 61.0,418.0 62.0,421.6 63.0,426.0 64.0,427.0 65.0,427.7 66.0,429.0 67.0,428.4 68.0,426.3 69.0,426.0 70.0,429.6 71.0,434.0 72.0,434.3 73.0,434.5 74.0,436.0 75.0,438.9 76.0,439.5 77.0,442.5 78.0,442.5 79.0,442.5 80.0,443.5 81.0,442.1 82.0,443.0 83.0,443.8 84.0,443.5 85.0,444.1 86.0,444.3 87.0,445.0 88.0,445.7 89.0,445.3 90.0,446.2 91.0,446.7 92.0,447.0 93.0,448.0 94.0,446.8 95.0,448.5 96.0,448.5 97.0,448.2 98.0,448.8 99.0,449.0 100.0,448.8 101.0,449.7 102.0,449.1 103.0,448.9 104.0,448.9 105.0,448.9 106.0,448.9 107.0,449.0 108.0,448.8 109.0,450.1 110.0,448.6 111.0,448.7 112.0,449.6 113.0,449.7 114.0,450.0 115.0,450.0 116.0,450.0 117.0,450.2 118.0,450.5 119.0,450.9 120.0,450.4 121.0,450.6 122.0,451.7 123.0,451.0 124.0,451.1 125.0,450.3 126.0,451.4 127.0,450.7 128.0,450.1 129.0,449.7 130.0,450.0 131.0,449.7 132.0,448.8 133.0,448.2 134.0,447.7 135.0,447.6 136.0,447.8 137.0,446.7 138.0,445.9 139.0,446.0 140.0,445.9 141.0,445.4 142.0,445.3 143.0,445.1 144.0,444.3 145.0,443.9 146.0,443.6 147.0,442.9 148.0,443.0 149.0,442.9 150.0,442.9 151.0,442.1 152.0,441.6 153.0,441.2 154.0,440.7 155.0,440.3 156.0,440.2 157.0,440.0 158.0,438.9 159.0,438.2 160.0,437.0 161.0,436.9 162.0,436.0 163.0,435.6 164.0,434.7 165.0,434.0 166.0,434.4 167.0,434.0 168.0,434.3 169.0,433.4 170.0,433.4 171.0,433.2 172.0,433.5 173.0,432.8 174.0,433.0 175.0,435.1 176.0,436.2 177.0,438.0 178.0,438.5 179.0,438.3 180.0,438.3 181.0,437.9 182.0,438.4 183.0,438.6 184.0,439.1 185.0,439.0 186.0,439.1 187.0,438.7 188.0,439.2 189.0,439.4 190.0,438.9 191.0,438.8 192.0,438.8 193.0,439.3 194.0,439.0 195.0,439.2 196.0,438.6 197.0,439.1 198.0,438.8 199.0,438.7 200.0,439.5 201.0,439.3 202.0,438.7 203.0,439.0 204.0,439.1 205.0,439.4 206.0,439.1 207.0,439.4 208.0,439.8 209.0,439.0 210.0,439.9 211.0,440.2 212.0,440.0 213.0,440.1 214.0,439.2 215.0,439.8 216.0,439.2 217.0,439.7 218.0,439.6 219.0,439.3 220.0,438.8 221.0,439.0 222.0,438.9 223.0,439.6 224.0,439.0 225.0,439.6 226.0,439.8 227.0,439.6 228.0,440.6 229.0,439.9 230.0,440.0 231.0,441.0 232.0,439.6 233.0,439.8 234.0,441.2 235.0,441.3 236.0,441.1 237.0,441.4 238.0,440.8 239.0,441.5 240.0,442.0 241.0,441.6 242.0,441.9 243.0,442.4 244.0,442.0 245.0,442.1 246.0,441.7 247.0,442.0 248.0,442.1 249.0,442.6 250.0,442.7 251.0,443.6 252.0,443.1 253.0,444.5 254.0,444.0 255.0,444.4 256.0,445.9 257.0,445.9 258.0,447.0 259.0,447.4 260.0,446.6 261.0,446.5 262.0,446.4 263.0,445.6 264.0,445.2 265.0,444.6 266.0,445.7 267.0,445.0 268.0,444.8 269.0,445.0 270.0,445.3 271.0,446.2 272.0,444.9 273.0,445.8 274.0,445.6 275.0,446.1 276.0,446.0 277.0,445.0 278.0,445.3 279.0,445.6 280.0,445.6 281.0,445.4 282.0,444.5 283.1,444.0 284.3,444.2 285.4,444.0 286.6,443.4 287.7,443.8 289.0,444.0 290.2,445.7 291.5,446.2 292.6,446.2 293.6,446.0 294.7,446.5 295.8,445.6 296.9,446.1 297.9,445.9 299.0,445.8 300.1,445.9 301.2,446.3 302.3,446.3 303.4,446.5 304.4,446.6 305.5,447.4 306.6,446.7 307.7,447.4 308.8,447.1 309.9,447.6 311.0,447.4 312.0,448.1 313.1,447.6 314.2,448.6 315.3,448.0 316.3,448.4 317.4,448.9 318.5,449.0 319.6,449.7 320.6,450.0 321.7,450.4 322.7,450.3 323.8,450.3 324.8,451.2 325.9,451.5 326.9,451.3 328.0,452.0 329.1,452.6 330.2,452.6 331.2,452.4 332.3,453.2 333.4,452.7 334.5,453.1 335.5,453.9 336.6,453.3 337.7,454.2 338.8,454.4 339.8,454.0 340.9,455.0 342.0,454.6 343.0,455.2 344.1,454.7 345.2,455.3 346.2,456.0 347.3,455.8 348.4,456.1 349.5,455.3 350.5,456.5 351.6,456.6 352.7,456.1 353.8,457.0 354.8,456.1 355.9,456.6 357.0,456.7 358.1,457.3 359.3,457.5 360.4,457.6 361.6,456.7 362.7,457.3 363.8,456.4 364.8,457.1 365.9,456.2 367.0,456.6 368.0,456.0 369.1,456.7 370.2,456.5 371.2,456.2 372.3,455.8 373.3,455.7 374.4,455.7 375.4,455.5 376.5,455.6 377.5,455.5 378.5,455.5 379.6,455.1 380.6,455.9 381.6,455.2 382.7,455.6 383.7,455.5 384.8,454.5 385.8,454.8 386.9,454.0 387.9,455.1 389.0,454.3 390.1,454.4 391.1,454.1 392.2,454.2 393.3,453.5 394.3,453.9 395.4,453.8 396.5,453.6 397.5,453.7 398.6,452.9 399.7,454.0 400.7,453.8 401.8,452.9 402.9,453.3 403.9,453.5 405.0,453.5 406.1,454.0 407.1,454.0 408.2,454.8 409.3,454.5 410.3,454.4 411.4,454.8 412.5,455.6 413.5,455.3 414.6,455.8 415.7,455.8 416.8,455.6 417.9,455.0 419.0,454.9 420.1,454.1 421.2,453.8 422.3,453.5 423.4,453.7 424.6,454.2 425.7,454.3 426.9,455.1 428.0,455.8 429.2,455.5 430.3,455.4 431.5,456.2 432.6,456.4 433.8,456.3 434.9,456.3 436.0,457.1 437.0,457.0 438.1,457.2 439.2,456.6 440.3,456.4 441.3,457.3 442.4,457.3 443.5,457.3 444.6,457.8 445.6,457.9 446.7,458.4 447.7,458.0 448.8,458.6 449.8,458.2 450.9,458.0 451.9,458.8 453.0,459.2 454.1,459.7 455.2,458.4 456.2,459.4 457.3,458.7 458.4,458.8 459.5,458.9 460.5,458.9 461.6,458.4 462.7,458.7 463.8,458.8 464.8,458.9 465.9,459.0 467.0,458.4 468.0,459.3 469.1,459.5 470.2,459.5 471.2,458.2 472.3,458.7 473.4,458.9 474.5,458.2 475.5,459.3 476.6,459.5 477.7,459.0 478.8,458.9 479.8,459.8 480.9,460.1 482.0,460.0 483.1,459.6 484.1,459.7 485.2,458.9 486.2,459.4 487.3,459.6 488.3,459.5 489.4,460.0 490.4,458.8 491.5,459.2 492.6,458.3 493.6,459.3 494.7,458.8 495.7,459.1 496.8,459.2 497.8,459.1 498.9,459.4 499.9,459.3 501.0,458.7 502.1,458.0 503.2,458.5 504.3,459.3 505.4,458.2 506.4,458.7 507.5,458.2 508.6,458.0 509.7,458.7 510.8,458.0 511.9,458.3 512.9,457.6 514.0,457.9 515.1,456.9 516.1,457.0 517.2,457.5 518.3,457.0 519.3,456.4 520.4,456.7 521.5,457.0 522.5,457.1 523.6,457.6 524.7,457.7 525.7,457.3 526.8,457.4 527.9,457.7 528.9,457.8 530.0,458.0 531.1,458.7 532.1,458.9 533.2,458.9 534.3,458.7 535.3,458.6 536.4,459.2 537.5,458.8 538.5,459.2 539.6,459.2 540.7,458.5 541.7,459.0 542.8,459.8 543.9,458.8 544.9,458.6 546.0,459.1 547.1,459.9 548.1,459.8 549.2,459.2 550.3,458.9 551.5,458.8 552.6,458.8 553.7,458.4 554.9,458.6 556.0,458.5 557.1,458.2 558.1,457.5 559.2,457.6 560.3,457.5 561.4,457.0 562.5,456.7 563.5,457.3 564.6,456.7 565.7,457.4 566.7,456.4 567.8,456.2 568.9,456.5 569.9,456.1 571.0,455.8 572.1,456.6 573.1,455.5 574.2,455.8 575.3,455.4 576.3,455.3 577.4,455.1 578.5,455.3 579.5,455.5 580.6,455.7 581.7,455.3 582.7,454.9 583.8,454.8 584.9,454.2 586.0,454.5 587.0,454.0 588.1,454.2 589.2,454.5 590.3,454.0 591.3,453.7 592.4,453.3 593.5,453.5 594.6,453.4 595.6,453.4 596.7,452.9 597.7,453.0 598.8,453.5 599.8,452.4 600.9,452.9 601.9,452.5 603.0,452.9 604.1,453.5 605.2,453.1 606.2,453.1 607.3,453.1 608.4,453.0 609.5,453.0 610.5,452.3 611.6,453.0 612.7,452.9 613.8,453.0 614.8,452.1 615.9,452.9 617.0,452.8 618.0,451.8 619.1,452.1 620.2,452.1 621.2,451.9 622.3,452.0 623.4,452.2 624.5,451.5 625.5,451.9 626.6,452.1 627.7,452.3 628.8,452.0 629.8,451.9 630.9,452.3 632.0,452.0 633.1,451.1 634.1,452.3 635.2,451.7 636.2,451.3 637.3,451.6 638.3,450.9 639.4,450.8 640.4,451.4 641.5,451.5 642.8,450.0 644.1,449.5 645.4,448.0 646.5,447.6 647.6,447.5 648.8,447.6 649.9,448.7 651.0,448.0 652.1,448.1 653.2,448.0 654.3,447.9 655.4,448.0 656.4,448.5 657.5,448.8 658.6,449.2 659.7,449.3 660.8,449.0 661.9,449.0 662.9,448.5 664.0,448.3 665.1,447.8 666.1,448.0 667.2,448.5 668.3,448.1 669.3,448.3 670.4,448.0 671.5,447.4 672.5,448.3 673.6,448.0 674.7,447.9 675.7,448.0 676.8,447.0 677.9,447.5 678.9,447.4 680.0,447.7 681.1,448.6 682.1,447.9 683.2,447.9 684.3,448.6 685.3,448.0 686.4,449.1 687.5,448.4 688.5,448.8 689.6,449.0 690.8,448.3 691.9,448.6 693.1,447.1 694.2,447.8 695.4,447.1 696.5,446.7 697.6,446.9 698.8,446.3 699.9,446.7 701.0,446.5 702.1,447.1 703.2,447.7 704.3,448.1 705.5,448.7 706.6,449.4 707.7,449.3 708.8,450.0 709.9,449.6 711.0,449.7 712.0,450.6 713.1,450.3 714.2,451.0 715.3,450.7 716.3,450.4 717.4,451.3 718.5,451.0 719.6,451.8 720.6,450.9 721.7,450.6 722.7,450.7 723.8,451.4 724.8,450.8 725.9,450.8 726.9,451.3 728.0,451.0 729.1,451.0 730.2,451.0 731.2,450.6 732.3,450.6 733.4,450.8 734.5,450.8 735.5,450.9 736.6,450.4 737.7,450.6 738.8,450.8 739.8,450.9 740.9,450.8 742.0,451.0 743.0,451.2 744.1,450.9 745.2,450.9 746.2,450.6 747.3,451.0 748.4,451.1 749.5,451.0 750.5,450.9 751.6,450.7 752.7,451.2 753.8,451.8 754.8,451.2 755.9,451.0 757.0,451.0 758.1,451.0 759.1,450.3 760.2,450.4 761.2,449.8 762.3,449.6 763.3,449.8 764.4,449.5 765.4,449.2 766.5,449.0 767.7,448.3 768.8,448.3 770.0,447.4 771.1,447.8 772.3,447.1 773.4,447.2 774.5,447.6 775.6,448.2 776.7,448.4 777.8,447.9 778.9,448.6 780.0,449.0 781.2,449.3 782.3,449.0 783.5,448.8 784.6,449.8 785.8,450.0 786.9,449.9 787.9,449.9 789.0,449.7 790.1,449.6 791.1,449.5 792.2,449.9 793.3,449.4 794.3,449.3 795.4,449.0 796.5,448.6 797.5,449.0 798.6,448.3 799.7,448.5 800.7,447.1 801.8,447.8 802.9,447.5 803.9,447.1 805.0,447.1 806.1,447.7 807.1,447.4 808.2,447.2 809.3,447.2 810.3,448.2 811.4,447.8 812.5,447.8 813.5,447.3 814.6,447.7 815.7,448.2 816.7,447.9 817.8,447.6 818.9,447.7 819.9,447.1 821.0,448.0 822.1,447.3 823.1,448.0 824.2,447.7 825.3,447.4 826.4,447.3 827.5,447.5 828.7,447.4 829.8,446.7 830.9,447.1 832.0,447.0 833.1,447.0 834.2,446.3 835.3,445.6 836.3,445.8 837.4,445.2 838.5,445.1 839.6,445.0 840.8,444.6 841.9,444.1 843.1,443.5 844.2,442.5 845.4,442.7 846.5,443.0 847.6,443.0 848.7,443.1 849.7,443.5 850.8,444.4 851.9,443.3 853.0,444.0 854.2,442.9 855.3,443.3 856.5,442.2 857.6,442.5 858.8,441.5 859.9,441.2 861.0,441.6 862.0,442.2 863.1,442.4 864.2,442.3 865.3,442.5 866.3,442.4 867.4,442.4 868.5,442.7 869.6,442.7 870.6,443.4 871.7,443.2 872.7,443.1 873.8,443.3 874.8,443.6 875.9,443.8 876.9,443.4 878.0,443.5 879.1,443.5 880.2,443.7 881.2,444.5 882.3,443.8 883.4,444.3 884.5,443.2 885.5,444.2 886.6,443.4 887.7,444.0 888.9,443.6 890.0,443.7 891.2,443.9 892.3,444.1 893.5,444.0 895.4,446.0 896.5,446.3 897.6,446.4 898.7,446.3 899.7,447.4 900.8,446.9 901.9,447.1 903.0,447.0 904.1,447.7 905.2,447.1 906.3,446.8 907.5,446.6 908.6,447.0 909.7,445.7 910.8,446.0 911.9,445.4 912.9,445.6 914.0,444.5 915.1,444.8 916.1,445.3 917.2,444.5 918.3,444.5 919.3,444.5 920.4,444.0 921.5,443.2 922.5,443.5 923.6,442.8 924.7,442.3 925.7,442.3 926.8,442.1 927.9,441.7 928.9,441.2 930.0,441.2 931.1,441.7 932.2,441.9 933.3,441.8 934.4,441.7 935.5,441.4 936.6,441.6 937.7,442.1 938.8,442.1 939.9,443.0 941.0,443.7 942.1,444.1 943.2,444.2 944.3,444.4 945.4,445.0 946.5,445.2 947.5,445.3 948.6,445.6 949.7,446.0 950.7,445.3 951.8,446.5 952.9,445.0 953.9,445.2 955.0,446.0 956.1,445.4 957.1,445.6 958.2,445.9 959.3,446.8 960.3,445.7 961.4,446.4 962.5,445.9 963.5,446.1 964.6,446.0 965.7,445.5 966.7,446.6 967.8,445.7 968.9,445.3 969.9,446.2 971.0,445.4 972.1,445.4 973.1,445.1 974.2,445.0 975.3,444.6 976.3,444.3 977.4,444.8 978.5,445.5 979.5,444.9 980.6,444.7 981.7,445.1 982.7,444.3 983.8,444.6 984.9,445.1 986.0,444.5 987.0,444.1 988.1,444.6 989.2,444.5 990.3,444.1 991.3,444.2 992.4,444.5 993.5,444.0 994.6,444.5 995.8,443.5 996.9,442.9 998.1,444.4 999.2,443.5 1000.3,443.6 1001.4,443.8 1002.5,444.3 1003.7,444.2 1004.8,445.0 1005.9,444.3 1007.0,445.0 1008.1,445.2 1009.2,445.1 1010.3,446.5 1011.3,446.0 1012.4,446.9 1013.5,447.3 1014.6,447.0 1015.7,446.4 1016.8,446.6 1017.9,446.9 1019.0,446.4 1020.1,446.2 1021.2,446.5 1022.3,446.0 1023.4,446.5 1024.5,446.0 1025.5,446.3 1026.6,446.7 1027.7,446.6 1028.8,446.7 1029.8,446.3 1030.9,447.6 1032.0,447.0 1033.1,446.8 1034.1,446.9 1035.2,446.7 1036.2,446.6 1037.3,446.5 1038.3,446.0 1039.4,446.4 1040.4,446.6 1041.5,446.0 1042.6,446.4 1043.6,446.7 1044.7,446.8 1045.7,446.9 1046.8,447.8 1047.8,447.0 1048.9,447.6 1049.9,448.1 1051.0,447.9 1052.1,447.9 1053.2,447.3 1054.3,447.2 1055.4,448.1 1056.4,447.0 1057.5,447.3 1058.6,447.4 1059.7,447.1 1060.8,447.0 1061.9,446.2 1062.9,446.0 1064.0,446.6 1065.1,446.2 1066.1,446.3 1067.2,446.4 1068.3,446.3 1069.3,445.6 1070.4,446.0 1071.5,445.4 1072.5,446.6 1073.6,446.1 1074.7,446.0 1075.7,445.8 1076.8,446.9 1077.9,446.3 1078.9,446.5 1080.0,447.0 1081.1,447.3 1082.1,447.3 1083.2,447.5 1084.3,446.9 1085.3,446.7 1086.4,447.2 1087.5,447.6 1088.5,447.5 1089.6,447.9 1090.7,448.2 1091.7,447.8 1092.8,447.2 1093.9,447.7 1094.9,447.3 1096.0,447.1 1097.1,447.6 1098.1,446.4 1099.2,447.0 1100.2,447.3 1101.3,447.2 1102.3,445.8 1103.4,446.4 1104.4,446.3 1105.4,445.8 1106.5,445.9 1107.5,445.7 1108.6,445.9 1109.6,445.8 1110.7,445.5 1111.7,444.8 1112.8,446.0 1113.9,445.8 1114.9,445.0 1116.0,445.6 1117.1,446.0 1118.1,444.5 1119.2,445.0 1120.3,445.1 1121.3,445.4 1122.4,446.1 1123.5,446.1 1124.5,445.9 1125.6,447.3 1126.7,447.0 1127.7,447.7 1128.8,447.7 1129.9,448.3 1131.0,447.1 1132.0,447.1 1133.1,447.4 1134.2,446.9 1135.3,447.0 1136.3,446.6 1137.4,447.3 1138.5,446.3 1139.6,446.6 1140.6,446.6 1141.7,446.6 1142.7,446.7 1143.8,446.0 1144.8,446.6 1145.9,447.1 1146.9,446.4 1148.0,446.9 1149.1,446.8 1150.2,446.6 1151.2,446.3 1152.3,447.2 1153.4,446.6 1154.5,446.3 1155.5,445.7 1156.6,446.0 1157.7,445.8 1158.8,445.5 1159.8,445.5 1160.9,445.4 1162.0,446.0 1163.0,445.6 1164.1,445.6 1165.2,445.3 1166.2,445.4 1167.3,444.4 1168.4,444.0 1169.5,443.6 1170.5,444.0 1171.6,443.9 1172.7,443.6 1173.8,443.2 1174.8,443.6 1175.9,443.8 1177.0,443.0 1178.1,442.8 1179.2,442.4 1180.3,442.7 1181.3,441.9 1182.4,441.6 1183.5,441.6 1184.6,441.2 1185.7,439.9 1186.8,441.0 1187.9,439.7 1189.0,439.4 1190.1,438.8 1191.2,438.4 1192.3,437.7 1193.4,437.9 1194.6,439.9 1195.7,440.2 1196.9,440.9 1198.0,441.5 1199.2,441.3 1200.3,439.1 1201.5,438.9 1202.6,437.6 1203.8,436.7 1204.9,436.0 1206.0,437.3 1207.1,435.9 1208.2,436.5 1209.3,436.3 1210.4,436.3 1211.5,436.2 1212.6,435.8 1213.6,436.7 1214.7,436.2 1215.7,435.5 1216.8,435.5 1217.8,436.0 1218.9,435.4 1219.9,436.0 1221.0,435.8 1222.1,436.0 1223.2,435.8 1224.3,435.3 1225.4,435.7 1226.4,436.4 1227.5,436.2 1228.6,437.2 1229.7,436.4 1230.8,436.7 1231.9,437.4 1233.0,438.1 1234.1,438.4 1235.2,439.1 1236.3,439.9 1237.4,440.0 1238.5,440.6 1239.6,440.5 1240.6,440.1 1241.7,440.8 1242.8,439.9 1243.9,439.9 1244.9,438.6 1246.0,439.2 1247.1,438.8 1248.2,438.3 1249.3,438.6 1250.5,438.2 1251.6,437.7 1252.7,437.8 1253.8,437.7 1255.0,437.4 1256.1,437.0 1257.3,435.7 1258.4,435.8 1259.6,434.8 1260.7,434.7 1261.8,435.3 1262.9,434.9 1264.0,435.8 1265.1,436.3 1266.2,435.5 1267.3,435.8 1268.4,436.1 1269.5,434.8 1270.6,434.9 1271.7,435.7 1272.8,434.6 1273.9,434.6 1275.0,434.2 1276.2,433.3 1277.3,433.7 1278.5,433.1 1279.6,433.6 1280.8,432.9 1282.1,434.0 1283.3,436.2 1284.6,436.7 1285.7,435.8 1286.8,435.9 1287.9,434.5 1289.0,434.7 1290.1,434.9 1291.2,433.9 1292.3,433.5 1293.4,432.8 1294.5,433.3 1295.5,433.2 1296.6,432.8 1297.7,432.8 1298.8,431.6 1299.8,432.7 1300.9,432.0 1302.0,431.5 1303.1,430.6 1304.1,432.1 1305.2,431.1 1306.2,431.5 1307.3,430.4 1308.3,430.9 1309.4,430.4 1310.4,431.4 1311.5,431.0 1312.6,430.4 1313.7,429.5 1314.8,429.2 1315.9,429.2 1317.0,427.9 1318.1,427.9 1319.2,427.1 1320.3,426.2 1321.4,425.6 1322.5,425.7 1323.7,425.3 1324.8,425.1 1325.9,425.0 1327.0,424.2 1328.3,424.7 1329.5,425.4 1330.8,426.2 1331.9,426.4 1333.1,426.2 1334.2,425.9 1335.4,426.0 1336.5,425.8 1337.7,425.1 1338.8,425.7 1340.0,425.4 1341.1,426.0 1342.3,426.2 1343.4,426.5 1344.6,425.4 1345.7,426.3 1346.9,425.7 1348.0,425.8 1349.0,425.9 1350.0,426.0 1351.0,426.7 1352.0,426.3 1353.0,426.0 1354.0,427.0" stroke="#28dc28"/>
<polyline points="8.0,417.0 8.9,415.4 9.8,413.0 10.7,409.0 12.0,412.0 13.0,410.1 14.0,407.3 15.0,406.0 16.0,404.6 17.0,405.4 18.0,405.0 19.0,404.2 20.0,404.0 21.0,405.5 21.8,405.2 22.6,404.6 23.4,404.5 24.2,402.6 25.0,403.0 26.0,399.5 27.0,396.0 28.0,395.8 29.0,394.1 30.0,395.6 31.0,396.9 32.0,397.0 32.8,396.0 33.7,396.5 34.5,393.0 35.4,392.5 36.2,391.3 37.1,392.1 38.0,390.0 39.0,390.7 40.0,391.0 41.0,393.0 42.0,392.6 43.0,394.0 44.0,394.6 45.0,395.8 46.0,395.0 46.8,396.2 47.7,396.1 48.5,396.4 50.0,401.0 50.9,401.2 51.7,403.9 52.6,404.7 53.5,405.0 54.3,405.8 55.1,405.5 56.0,405.5 57.2,409.3 58.4,411.0 59.2,414.5 60.0,418.0 60.9,422.2 61.7,426.0 63.3,432.6 64.2,437.2 65.0,441.0 65.8,439.3 66.6,438.8 67.4,438.0 68.3,439.2 69.1,442.2 70.0,442.5 70.8,443.5 71.6,445.1 72.4,445.8 73.5,446.2 74.5,445.6 75.6,445.8 76.4,445.7 77.3,448.0 78.2,448.0 79.0,449.0 80.0,449.8 81.0,448.9 82.0,450.0 82.9,449.9 83.8,451.1 84.6,451.4 85.5,450.7 86.3,450.2 87.1,450.4 88.0,451.5 88.8,452.2 89.6,452.0 90.4,452.6 91.3,453.2 92.2,452.9 93.0,454.0 93.8,453.7 94.6,453.3 95.4,452.0 96.2,450.5 97.1,448.6 97.9,447.8 98.7,447.0 99.5,447.0 100.3,445.0 101.2,445.4 102.0,445.0 102.8,443.3 103.6,442.7 104.4,441.7 105.3,442.0 106.1,442.6 107.0,443.0 108.0,443.7 109.0,442.5 110.0,443.6 111.0,445.0 112.0,445.0 113.0,445.2 114.0,445.2 115.0,445.8 115.8,445.6 116.7,443.7 117.6,444.4 118.4,444.0 119.2,443.8 120.1,442.8 120.9,443.5 121.7,443.0 122.5,442.5 123.3,441.6 124.2,442.5 125.0,442.5 126.0,441.6 127.0,441.7 128.0,441.7 128.9,441.8 129.8,442.9 130.7,442.4 131.6,442.5 132.4,442.3 133.3,442.3 134.2,440.8 135.0,441.7 136.0,442.2 137.0,440.6 138.0,441.0 138.9,441.1 139.8,440.1 140.6,440.0 141.5,440.3 142.4,441.5 143.2,440.7 144.1,439.8 145.0,440.0 145.9,439.7 146.8,439.1 147.6,439.6 148.5,439.2 149.4,439.8 150.2,438.4 151.1,438.9 152.0,439.0 152.9,438.2 153.8,438.1 154.6,438.7 155.5,438.1 156.4,438.1 157.2,438.2 158.1,437.9 159.0,437.0 159.8,435.4 160.6,435.7 161.4,433.5 162.2,433.8 163.0,433.0 164.0,431.6 165.0,427.5 166.0,425.0 167.0,421.7 168.0,419.0 169.0,419.8 170.0,420.3 171.0,421.0 171.8,421.2 172.6,420.8 173.4,422.4 174.2,422.5 175.0,422.0 176.0,421.2 177.0,420.9 178.0,420.0 178.8,421.1 179.6,422.0 180.4,422.1 181.2,422.9 182.0,423.0 182.8,423.2 183.6,423.0 184.4,423.8 185.2,425.4 186.0,425.0 186.8,425.7 187.6,425.1 188.4,424.6 189.2,425.2 190.0,425.0 191.0,425.6 192.0,424.7 193.0,423.0 194.0,425.8 195.0,429.6 196.0,433.0 197.0,432.4 198.0,432.9 199.0,434.0 200.0,433.5 201.0,432.7 202.0,432.0 202.8,432.0 203.6,431.7 204.4,430.8 205.2,430.5 206.0,429.0 207.0,429.6 208.0,430.2 209.0,432.0 210.0,431.3 211.0,431.4 212.0,429.0 212.8,429.2 213.7,428.2 214.5,429.2 215.3,430.0 216.2,428.3 217.0,429.0 217.8,429.4 218.6,428.2 219.4,429.3 220.2,428.8 221.0,428.0 221.8,427.6 222.6,428.2 223.4,425.9 224.2,425.1 225.0,425.0 225.8,426.5 226.7,424.7 227.5,427.0 228.3,425.6 229.2,425.1 230.0,426.0 231.0,418.0 231.8,417.6 232.6,417.3 233.4,417.0 234.2,416.2 235.0,416.0 235.8,416.6 236.7,413.6 237.5,414.5 238.3,414.4 239.2,415.9 240.0,414.0 241.0,409.2 242.0,408.0 242.8,407.5 243.6,406.5 244.4,406.8 245.2,407.8 246.0,407.0 246.8,406.4 247.6,406.4 248.4,403.4 249.2,403.3 250.0,402.0 251.0,400.2 252.0,396.0 253.0,395.3 254.0,392.3 255.0,391.0 256.0,391.8 257.0,390.0 258.0,395.0 259.0,402.0 260.0,399.9 261.0,394.0 262.0,391.7 263.0,389.0 264.0,389.5 265.0,390.6 266.0,391.0 267.0,393.9 268.0,396.9 269.0,397.0 270.0,393.8 271.0,390.6 272.0,388.0 273.5,377.0 275.0,371.0 275.8,370.9 276.6,368.1 277.4,366.1 278.2,368.7 279.0,366.7 280.0,361.5 281.0,359.1 282.0,352.8 283.0,346.6 284.0,340.3 285.0,339.0 285.9,332.5 286.7,325.3 287.6,318.0 288.8,307.3 290.0,290.0 290.9,284.2 291.7,276.0 292.6,282.6 293.6,289.2 294.5,293.8 295.3,295.3 296.2,298.5 297.0,300.7 297.9,301.3 298.8,308.6 299.7,311.0 300.6,318.2 301.5,328.5 302.3,326.5 303.2,327.4 304.0,325.0 305.0,330.2 306.0,332.0 307.2,321.4 308.4,314.6 309.3,313.4 310.2,302.9 311.1,300.7 312.0,293.8 313.0,286.7 314.0,275.8 315.0,266.0 316.0,259.4 317.0,252.0 317.9,255.0 318.8,250.9 319.6,248.0 320.5,245.0 322.0,227.8 323.0,215.4 324.0,214.0 324.9,225.7 325.9,244.9 326.8,255.5 327.9,262.1 329.0,267.7 329.9,263.1 330.9,261.7 331.8,260.4 332.7,259.0 333.5,254.7 334.4,247.9 335.2,243.5 336.0,234.7 336.9,227.6 337.9,228.0 338.8,218.9 339.7,215.6 340.9,224.3 342.0,234.7 342.9,240.4 343.8,236.6 344.6,236.8 345.5,238.0 346.4,243.9 347.2,250.0 348.1,261.5 349.0,264.0 349.9,258.9 350.9,248.6 351.8,238.0 352.9,238.0 353.9,239.9 355.0,236.5 355.9,240.2 356.9,245.5 357.8,249.2 358.8,252.0 359.6,247.0 360.4,246.1 361.2,241.2 362.0,231.0 362.9,235.7 363.9,227.4 364.8,239.0 365.7,234.7 366.6,242.4 367.6,245.0 368.5,252.0 369.3,257.9 370.1,266.7 371.0,272.6 371.8,277.7 372.6,281.6 373.5,274.0 374.3,265.9 375.1,260.0 376.0,250.0 376.9,248.5 377.8,245.1 378.7,244.6 379.6,245.0 380.5,244.1 381.3,244.9 382.1,249.0 383.0,243.0 383.9,246.3 384.8,257.0 385.9,270.4 386.9,281.3 388.0,293.8 388.9,303.6 389.8,314.9 390.7,321.5 391.6,331.8 392.6,337.4 393.5,345.8 394.3,339.1 395.2,331.9 396.0,328.5 396.9,330.1 397.8,334.1 398.6,333.1 399.5,336.5 400.4,337.0 401.3,339.5 402.2,340.2 403.1,342.6 404.0,342.0 405.0,338.5 406.0,333.9 407.0,332.0 407.9,328.2 408.9,330.2 409.9,326.1 410.8,325.0 411.9,330.1 412.9,337.8 414.0,342.0 414.8,343.2 415.6,349.8 416.4,350.5 417.2,351.2 418.0,354.5 419.0,347.0 420.0,343.3 421.0,335.0 421.9,333.2 422.9,334.4 423.8,335.8 424.7,336.0 425.9,339.3 427.0,342.0 427.9,344.4 428.7,347.3 429.6,349.0 430.5,349.7 431.5,351.3 432.4,352.8 433.3,357.0 434.1,358.4 435.0,359.7 435.9,360.8 436.7,365.7 437.6,365.0 438.8,356.0 440.0,352.8 441.0,344.2 442.0,335.4 442.8,332.0 443.7,327.9 444.5,321.5 445.3,324.5 446.2,326.5 447.0,330.0 447.9,327.1 448.8,321.6 449.7,318.0 450.6,315.5 451.6,307.1 452.5,307.6 453.3,307.2 454.2,303.6 455.0,304.0 456.2,307.7 457.4,307.6 458.3,307.4 459.1,305.6 460.0,302.4 461.0,300.4 462.0,301.1 463.0,299.0 464.1,301.8 465.3,306.0 466.2,305.1 467.1,303.1 467.9,300.2 468.8,300.7 469.7,302.3 470.6,296.9 471.4,288.3 472.3,290.0 473.5,295.5 474.7,297.0 475.6,300.0 476.6,308.3 477.5,314.6 478.4,311.7 479.2,310.0 480.1,309.8 481.0,307.6 482.2,310.5 483.4,314.6 484.4,320.6 485.5,332.0 486.3,327.3 487.2,323.3 488.0,318.0 488.9,323.0 489.8,320.6 490.7,323.0 491.9,309.5 493.0,300.7 493.8,293.0 494.7,288.4 495.5,280.0 496.3,275.6 497.2,273.6 498.0,273.0 499.0,272.0 500.0,268.3 501.0,266.0 501.8,261.9 502.7,255.0 503.5,252.0 504.3,247.5 505.2,246.5 506.0,245.0 507.4,227.8 508.4,236.0 509.4,245.0 510.3,243.0 511.1,244.0 512.0,241.7 512.9,246.6 513.8,250.0 514.7,252.0 515.7,248.1 516.7,241.7 517.9,240.9 519.0,245.0 520.0,234.4 521.0,232.4 522.0,222.6 523.2,229.6 524.4,236.5 525.6,237.6 526.8,238.0 527.9,247.2 529.0,262.5 530.1,260.2 531.3,259.0 532.1,259.7 532.9,261.5 533.8,266.0 534.7,263.8 535.6,260.9 536.5,264.0 537.5,270.4 538.6,276.4 539.7,287.7 540.7,293.8 541.6,294.5 542.6,298.6 543.5,300.7 544.4,299.2 545.2,303.8 546.1,307.1 547.0,304.0 547.9,303.1 548.8,306.9 549.7,309.0 550.5,312.4 551.4,310.7 552.2,310.7 553.0,311.0 553.9,301.1 554.7,299.2 555.6,293.8 556.8,293.9 558.0,290.0 558.9,296.7 559.9,298.5 560.8,300.7 561.7,300.6 562.7,301.5 563.6,304.0 564.8,302.1 566.0,307.6 566.8,308.2 567.7,315.4 568.5,316.0 569.4,314.5 570.2,310.9 571.1,314.9 572.0,311.0 572.9,308.9 573.8,315.9 574.7,314.6 575.9,319.0 577.0,324.6 578.0,332.9 579.0,340.0 579.8,337.7 580.6,333.0 581.8,329.3 583.0,324.6 584.0,330.4 585.0,331.6 585.9,327.6 586.7,322.9 587.6,319.4 588.5,312.9 589.3,309.0 590.1,302.6 590.9,300.6 591.7,298.6 592.8,305.0 593.8,307.3 594.6,306.7 595.4,305.5 596.2,300.3 597.1,308.5 597.9,309.9 598.7,312.5 599.6,319.3 600.6,321.7 601.5,329.9 602.3,327.2 603.2,329.0 604.0,323.0 605.0,325.7 606.0,326.4 607.2,313.1 608.4,300.3 609.2,308.8 610.0,316.0 610.9,316.4 611.7,322.5 612.6,328.0 613.5,323.9 614.4,321.0 615.3,323.0 616.1,327.3 617.0,330.5 617.8,331.6 618.7,327.7 619.6,325.2 620.5,321.0 621.4,317.4 622.4,318.5 623.3,316.0 624.1,312.3 625.0,308.7 625.8,300.3 626.6,297.9 627.4,289.9 628.2,283.0 629.1,285.6 630.1,286.9 631.0,291.7 631.9,290.9 632.8,294.2 633.8,293.4 634.6,299.2 635.4,302.7 636.2,307.3 637.4,316.6 638.6,319.4 639.5,318.9 640.5,316.0 641.4,314.2 642.6,309.5 643.8,305.5 644.6,301.4 645.5,296.9 646.4,298.4 647.4,301.8 648.3,307.3 649.1,302.8 650.0,296.9 650.8,299.1 651.7,303.3 652.5,307.3 653.5,303.7 654.6,295.0 655.8,294.6 657.0,295.0 657.9,306.5 658.8,312.5 659.6,322.0 660.5,331.6 661.4,342.8 662.2,349.0 663.1,344.5 664.0,338.5 665.2,339.1 666.4,345.5 667.3,346.9 668.1,344.0 669.0,343.8 669.9,341.0 670.8,344.8 671.7,345.3 672.6,345.5 673.5,340.2 674.3,338.2 675.1,337.1 676.0,333.0 676.9,340.8 677.8,343.8 678.7,343.9 679.5,342.3 680.4,340.4 681.3,336.8 682.1,335.7 682.9,340.2 683.8,343.8 684.8,349.2 685.8,354.0 687.2,368.0 688.1,372.4 689.0,382.0 689.9,392.4 690.7,401.0 691.5,393.3 692.4,383.7 693.3,381.5 694.1,380.8 695.0,380.0 696.0,381.2 697.0,384.6 698.0,387.0 699.2,388.0 700.4,389.0 701.3,387.2 702.1,384.3 703.0,383.7 703.9,382.9 704.7,380.8 705.6,380.0 706.8,387.3 708.0,392.4 708.9,389.9 709.9,384.9 710.8,383.7 711.7,380.2 712.7,380.3 713.6,378.5 714.8,381.4 716.0,385.4 716.8,382.5 717.7,379.5 718.5,375.0 719.3,374.4 720.2,371.5 721.0,373.0 722.0,371.2 723.0,373.3 724.0,372.3 724.8,374.5 725.6,379.3 726.6,379.2 727.6,376.3 729.0,372.3 730.0,373.2 731.0,374.3 732.0,374.0 733.0,372.3 734.0,372.1 735.0,374.3 736.0,377.2 737.0,380.3 738.5,389.3 739.5,384.5 740.5,384.3 741.5,385.1 742.5,386.3 744.0,391.4 745.0,390.5 746.0,388.3 747.0,388.3 748.0,390.4 749.0,390.0 750.0,391.4 751.0,393.3 752.0,395.4 752.9,390.9 753.8,386.3 754.8,381.8 755.8,379.3 757.2,390.4 758.2,390.6 759.2,389.3 760.2,389.2 761.2,393.9 762.2,394.4 763.2,390.3 764.2,389.3 765.4,388.9 766.6,390.4 767.5,389.9 768.3,385.2 769.2,384.3 770.1,381.0 771.0,381.7 771.9,380.3 772.9,381.7 773.9,385.3 775.1,385.0 776.3,387.3 777.3,387.5 778.3,388.5 779.3,390.4 780.3,388.9 781.3,388.5 782.3,389.3 783.3,391.1 784.3,388.5 785.3,389.3 786.3,389.4 787.3,385.7 788.3,386.3 789.3,384.5 790.4,381.3 791.6,379.3 792.8,380.3 793.8,380.7 794.8,382.3 795.6,381.1 796.4,378.3 797.2,378.1 798.0,379.3 799.4,406.4 800.8,397.4 801.6,397.4 802.4,401.4 803.4,401.9 804.4,403.4 805.4,403.7 806.4,404.4 807.4,408.0 808.4,410.5 809.5,407.5 810.5,406.4 811.5,406.6 812.5,407.4 813.5,406.5 814.5,405.4 815.5,402.3 816.5,402.4 817.7,401.8 818.9,401.4 819.9,401.6 820.9,403.4 821.8,403.5 822.6,402.6 823.5,402.4 824.5,401.2 825.5,400.4 826.5,399.9 827.5,403.4 828.5,404.8 829.5,406.4 830.5,403.5 831.6,401.4 832.5,400.1 833.3,400.2 834.2,400.4 835.1,399.8 836.1,401.9 837.0,402.4 837.9,402.7 838.7,402.3 839.6,401.4 840.5,400.2 841.3,401.8 842.2,399.4 843.4,399.3 844.6,397.4 845.8,395.4 847.0,395.4 847.8,392.2 848.6,389.3 849.6,382.3 850.7,379.3 851.7,380.3 852.7,379.2 853.7,378.3 855.0,373.3 856.0,372.2 857.0,369.2 857.9,368.0 858.7,363.2 859.7,362.1 860.7,362.2 861.7,361.2 862.7,365.2 863.7,364.5 864.7,364.2 865.7,367.1 866.7,366.2 867.7,366.9 868.7,367.2 869.8,372.5 870.8,374.3 871.8,373.4 872.8,370.3 873.8,367.9 874.8,361.2 875.8,361.6 876.8,360.2 877.9,359.8 879.0,361.3 880.0,363.4 881.0,364.3 882.2,368.1 883.4,366.3 884.3,365.2 885.1,363.0 886.0,365.3 887.0,370.1 888.0,369.3 889.5,372.3 891.0,376.3 891.9,379.9 892.7,382.4 894.0,370.3 895.0,357.2 896.1,372.3 897.5,358.2 899.0,353.2 900.0,352.7 901.0,354.2 902.0,354.8 903.0,357.2 904.0,356.5 905.0,360.3 906.0,359.3 907.0,356.2 908.0,357.4 909.0,358.2 910.0,355.8 911.0,355.2 912.1,353.6 913.2,353.2 914.2,352.0 915.2,352.2 916.2,345.2 917.2,345.9 918.2,343.2 919.1,343.2 919.9,346.1 920.8,344.2 921.8,345.4 922.8,349.2 923.8,349.7 924.8,352.2 926.3,346.2 927.7,338.1 929.3,337.1 930.1,340.8 930.9,346.2 931.9,340.8 932.9,337.1 933.9,338.5 934.9,340.2 935.9,345.4 936.9,347.2 937.9,353.1 938.9,355.2 940.1,353.6 941.3,355.2 942.3,358.1 943.3,357.2 944.1,357.0 945.0,358.9 945.8,356.2 946.7,356.3 947.5,355.6 948.4,357.2 949.3,357.1 950.1,355.5 951.0,353.2 952.0,351.5 953.0,351.2 954.0,353.2 955.0,355.2 956.0,357.4 957.0,359.2 958.2,361.2 959.4,362.3 960.4,360.4 961.4,363.3 962.4,363.1 963.4,366.3 964.2,367.9 965.0,369.3 966.5,363.3 967.5,361.1 968.5,358.2 969.9,342.2 971.0,334.1 972.0,334.2 973.0,336.1 974.0,332.1 975.0,334.1 975.8,336.1 976.7,332.9 977.5,333.1 978.3,329.7 979.1,330.1 980.1,333.9 981.1,332.1 982.3,334.1 983.5,332.1 984.5,332.9 985.6,330.1 986.8,329.1 987.7,333.1 988.6,334.1 989.6,337.1 990.6,338.1 991.5,336.8 992.3,338.8 993.2,339.1 994.4,341.2 995.6,342.2 996.8,342.3 998.0,340.2 998.9,341.3 999.7,339.2 1000.6,341.2 1001.5,340.9 1002.3,342.0 1003.2,343.2 1004.2,341.9 1005.3,341.2 1006.3,338.2 1007.3,338.1 1008.3,337.1 1009.3,342.2 1010.1,340.2 1010.9,342.7 1011.7,342.2 1012.7,350.2 1013.7,358.2 1014.7,360.1 1015.7,360.3 1016.7,356.0 1017.7,357.2 1018.7,357.1 1019.7,358.2 1020.7,355.1 1021.7,349.2 1022.7,351.2 1023.7,359.2 1024.5,358.0 1025.4,357.5 1026.2,360.3 1027.2,363.5 1028.2,363.3 1029.2,363.3 1030.2,363.3 1031.2,364.0 1032.2,366.3 1033.2,365.4 1034.1,364.0 1035.1,363.0 1036.0,362.6 1036.8,361.4 1037.7,358.0 1038.5,357.6 1039.4,355.1 1040.2,352.8 1041.2,355.3 1042.3,355.4 1043.1,354.9 1044.0,353.8 1044.8,350.3 1045.7,347.0 1046.5,350.0 1047.4,349.0 1048.3,348.7 1049.1,348.4 1050.0,347.7 1050.8,347.7 1051.7,348.4 1052.5,349.0 1053.4,353.0 1054.3,355.4 1055.2,357.0 1056.1,358.0 1057.0,357.3 1057.8,354.7 1058.7,355.4 1059.7,349.6 1060.7,347.7 1061.8,343.9 1062.8,342.6 1063.7,329.2 1064.5,322.1 1065.4,318.6 1066.3,317.0 1067.3,317.3 1068.4,320.8 1069.2,316.1 1070.1,314.6 1070.9,317.0 1071.8,316.5 1072.6,316.8 1073.5,318.3 1074.3,320.9 1075.2,317.4 1076.0,314.4 1077.0,309.0 1078.1,306.8 1079.0,308.3 1079.9,311.9 1080.8,312.5 1081.6,315.5 1082.5,319.6 1083.3,317.2 1084.2,316.0 1085.0,314.4 1085.9,312.8 1086.7,315.2 1087.6,313.2 1088.4,314.0 1089.3,316.2 1090.1,311.9 1091.0,310.6 1091.9,314.4 1093.0,310.7 1094.0,304.2 1095.0,300.9 1096.0,299.1 1097.0,281.2 1098.0,277.5 1099.0,281.2 1100.0,283.1 1100.9,286.3 1102.4,299.1 1103.3,293.0 1104.2,294.0 1105.2,295.2 1106.3,296.5 1107.2,297.1 1108.0,288.9 1108.9,290.5 1109.7,290.4 1110.6,285.0 1111.5,289.4 1112.3,284.9 1113.2,290.1 1114.1,288.5 1115.0,285.0 1116.0,287.3 1117.0,288.9 1118.0,283.5 1119.0,276.0 1119.9,272.9 1120.8,274.8 1122.1,260.7 1122.9,262.8 1123.7,274.8 1125.2,276.0 1126.2,287.7 1127.2,290.1 1128.2,293.4 1129.3,291.4 1130.2,296.6 1131.1,300.4 1132.0,302.6 1132.9,306.8 1134.4,311.9 1135.3,304.6 1136.2,296.5 1137.1,292.6 1138.0,294.0 1139.0,294.2 1140.0,290.1 1140.9,289.6 1141.7,288.1 1142.6,287.6 1143.4,287.1 1144.3,288.3 1145.1,288.9 1146.2,282.8 1147.2,276.0 1148.1,268.7 1149.0,263.3 1150.2,252.8 1151.2,253.5 1152.3,249.0 1153.1,250.4 1154.0,250.4 1154.8,251.5 1155.7,250.1 1156.5,256.4 1157.4,254.1 1158.3,248.0 1159.2,234.9 1160.5,219.6 1161.8,204.2 1162.7,203.9 1163.5,199.1 1165.1,181.2 1166.1,188.9 1167.6,178.6 1168.5,171.6 1169.4,177.3 1170.7,165.8 1172.0,158.1 1172.9,162.0 1173.8,168.4 1175.3,183.7 1176.2,184.5 1177.1,178.6 1178.4,194.0 1179.7,176.0 1180.6,168.5 1181.5,160.7 1182.5,166.6 1183.5,163.3 1184.5,159.1 1185.5,158.1 1186.4,171.8 1187.3,179.9 1188.2,176.0 1189.1,168.4 1190.2,154.1 1191.2,154.3 1192.1,161.1 1193.0,170.9 1194.5,181.2 1195.4,193.2 1196.3,206.8 1197.8,199.1 1198.6,189.3 1199.4,183.7 1200.4,175.5 1201.4,173.5 1202.5,177.8 1203.5,170.9 1204.3,169.9 1205.2,169.7 1206.1,175.6 1207.0,176.0 1208.6,188.9 1209.9,202.9 1210.8,183.7 1211.6,173.5 1212.7,167.1 1213.7,174.8 1214.6,178.3 1215.5,185.0 1216.4,188.9 1217.3,190.1 1218.3,185.8 1219.3,186.3 1220.3,180.4 1221.4,170.9 1222.3,166.2 1223.2,155.6 1224.2,153.3 1225.2,154.3 1226.1,154.7 1227.0,155.6 1228.0,155.4 1229.0,160.7 1229.9,165.9 1230.8,163.3 1231.7,168.4 1232.6,160.7 1233.7,158.7 1234.7,153.0 1235.7,149.9 1236.7,150.5 1237.6,150.4 1238.5,155.6 1239.4,159.7 1240.3,165.8 1241.3,172.8 1242.4,173.5 1243.4,172.8 1244.4,177.3 1245.3,181.8 1246.2,176.0 1247.1,174.4 1248.0,181.2 1249.0,192.0 1250.0,202.9 1251.0,198.3 1252.1,185.0 1253.0,190.4 1253.9,183.7 1254.8,180.5 1255.7,180.0 1257.2,190.0 1258.1,197.5 1259.0,199.8 1259.8,210.0 1260.7,207.5 1261.8,208.0 1262.8,201.1 1263.7,198.6 1264.6,208.8 1265.9,189.6 1267.4,174.2 1268.3,172.6 1269.2,169.1 1270.5,156.3 1271.4,167.5 1272.3,164.0 1273.3,155.2 1274.3,155.0 1275.2,156.5 1276.1,151.2 1277.6,156.3 1278.5,152.2 1279.4,162.7 1280.7,176.8 1282.0,189.6 1283.3,207.5 1284.5,222.8 1285.8,194.7 1286.7,203.7 1287.6,202.4 1288.4,204.9 1289.2,212.6 1290.1,207.5 1290.9,197.2 1292.0,202.1 1293.0,201.1 1293.9,188.8 1294.8,189.6 1295.7,178.3 1296.6,176.8 1297.6,180.5 1298.6,181.9 1299.5,183.2 1300.4,194.7 1301.5,195.9 1302.5,197.2 1303.3,196.8 1304.2,202.4 1305.2,210.4 1306.3,210.0 1307.8,224.1 1308.6,212.9 1309.4,204.9 1310.4,199.4 1311.4,199.8 1312.5,200.0 1313.5,196.0 1314.4,201.2 1315.3,198.5 1316.5,176.8 1317.5,174.3 1318.6,172.9 1319.5,170.1 1320.4,165.3 1321.3,160.7 1322.2,152.5 1323.7,148.6 1325.2,153.7 1326.3,174.2 1327.5,164.0 1328.4,159.0 1329.3,157.6 1330.1,159.1 1330.9,169.1 1332.4,183.2 1333.9,166.5 1335.2,153.7 1336.1,153.1 1337.0,148.6 1338.0,143.4 1339.0,140.9 1339.9,136.3 1340.8,142.2 1341.7,147.4 1342.6,146.1 1343.7,145.8 1344.7,142.2 1345.6,139.6 1346.5,135.8 1348.0,120.5 1348.9,126.4 1349.8,138.4 1350.7,142.6 1351.6,148.6 1352.9,123.0 1354.4,109.0" stroke="#ffffff" stroke-width="2.5"/>
</g>
<rect x="1389" y="435.5" width="63" height="2.5" fill="#2ed12e"/>
<polygon points="1383.5,425.5 1389,416 1452,416 1452,435 1389,435" fill="#f2b60a"/>
<text x="1391.5" y="431.5" font-size="15" fill="#2a1800" textLength="49.8" lengthAdjust="spacingAndGlyphs" stroke="#2a1800" stroke-width="0.3">88.8609</text>
<polygon points="1384,108.5 1389,99 1452,99 1452,117.5 1389,117.5" fill="#f7f7f7"/>
<text x="1392" y="114.3" font-size="15" fill="#1a1a1a" textLength="57" lengthAdjust="spacingAndGlyphs" stroke="#1a1a1a" stroke-width="0.3">511.5612</text>
<rect x="575" y="76" width="297" height="20" fill="#151515"/>
<rect x="642" y="76" width="1" height="20" fill="#0c0c0c"/><rect x="734" y="76" width="1" height="20" fill="#0c0c0c"/><rect x="804" y="76" width="1" height="20" fill="#0c0c0c"/>
<g stroke="#ababab" stroke-width="1.1" fill="none"><circle cx="587.8" cy="85.3" r="3.5"/><line x1="587.8" y1="79.7" x2="587.8" y2="91"/><line x1="581.5" y1="85.3" x2="594.2" y2="85.3"/></g>
<g stroke="#a0a0a0" fill="none"><line x1="655.3" y1="89.3" x2="662.6" y2="81.5" stroke-width="2.4"/><line x1="659" y1="89.7" x2="664.5" y2="89.7" stroke-width="1.3"/></g>
<g fill="#a8a8a8"><rect x="744" y="80" width="4" height="3.5"/><rect x="749.5" y="80" width="5.5" height="1.2"/><rect x="749.5" y="82.3" width="5.5" height="1.2"/><rect x="744" y="85" width="11" height="1.2"/><rect x="744" y="87.5" width="11" height="1.2"/><rect x="744" y="90" width="11" height="1.2"/></g>
<g stroke="#a8a8a8" fill="none"><circle cx="817" cy="84.3" r="4" stroke-width="1.4"/><line x1="820" y1="87.5" x2="824" y2="91.5" stroke-width="2"/></g>
<text x="602.5" y="91" font-size="15.6" fill="#dadada" textLength="36.5" lengthAdjust="spacingAndGlyphs">Track</text>
<text x="674" y="91" font-size="15.6" fill="#dadada" textLength="55" lengthAdjust="spacingAndGlyphs">Annotate</text>
<text x="765" y="91" font-size="15.6" fill="#dadada" textLength="33" lengthAdjust="spacingAndGlyphs">News</text>
<text x="833" y="91" font-size="15.6" fill="#dadada" textLength="34" lengthAdjust="spacingAndGlyphs">Zoom</text>
<rect x="0" y="543" width="1456" height="3" fill="#1e1e1e"/>
<rect x="0" y="546" width="1456" height="1" fill="#707070"/>
</svg>
</body></html>
